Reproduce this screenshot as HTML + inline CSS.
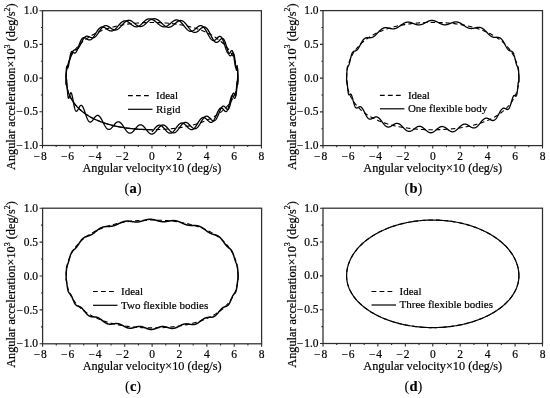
<!DOCTYPE html>
<html><head><meta charset="utf-8"><style>
html,body{margin:0;padding:0;background:#fff;}
body{width:550px;height:398px;position:relative;overflow:hidden;font-family:"Liberation Serif", serif;}
svg text{font-family:"Liberation Serif", serif;fill:#000;stroke:#000;stroke-width:0.2px;}
svg{will-change:transform;filter:blur(0.35px);}
</style></head><body>
<svg width="550" height="398" viewBox="0 0 550 398" style="position:absolute;left:0;top:0"><g><path d="M237.87,78.1 L237.86,77.23 L237.84,76.35 L237.8,75.48 L237.75,74.61 L237.69,73.73 L237.61,72.86 L237.51,71.99 L237.4,71.11 L237.28,70.24 L237.13,69.37 L236.98,68.5 L236.8,67.62 L236.61,66.75 L236.41,65.88 L236.18,65.01 L235.94,64.14 L235.68,63.28 L235.4,62.41 L235.11,61.54 L234.79,60.68 L234.46,59.82 L234.1,58.96 L233.73,58.1 L233.33,57.25 L232.92,56.4 L232.48,55.55 L232.02,54.7 L231.54,53.86 L231.03,53.03 L230.51,52.19 L229.96,51.37 L229.39,50.55 L228.79,49.73 L228.18,48.93 L227.53,48.12 L226.87,47.33 L226.18,46.54 L225.47,45.76 L224.73,44.99 L223.97,44.23 L223.19,43.48 L222.39,42.74 L221.56,42.01 L220.71,41.29 L219.83,40.58 L218.94,39.88 L218.02,39.19 L217.08,38.52 L216.12,37.86 L215.13,37.21 L214.13,36.57 L213.11,35.95 L212.07,35.34 L211.01,34.75 L209.93,34.17 L208.83,33.6 L207.72,33.05 L206.59,32.51 L205.44,31.99 L204.28,31.49 L203.1,31 L201.91,30.52 L200.71,30.06 L199.49,29.61 L198.27,29.18 L197.03,28.77 L195.78,28.37 L194.52,27.98 L193.25,27.61 L191.98,27.26 L190.69,26.92 L189.4,26.59 L188.1,26.28 L186.8,25.98 L185.49,25.7 L184.17,25.43 L182.85,25.17 L181.53,24.93 L180.2,24.7 L178.87,24.49 L177.53,24.28 L176.2,24.09 L174.86,23.91 L173.52,23.74 L172.17,23.59 L170.83,23.44 L169.48,23.31 L168.14,23.18 L166.79,23.07 L165.44,22.97 L164.09,22.88 L162.75,22.8 L161.4,22.73 L160.05,22.66 L158.7,22.61 L157.35,22.57 L156,22.54 L154.65,22.51 L153.3,22.5 L151.95,22.5 L150.6,22.5 L149.25,22.51 L147.9,22.54 L146.55,22.57 L145.2,22.61 L143.85,22.66 L142.5,22.73 L141.15,22.8 L139.81,22.88 L138.46,22.97 L137.11,23.07 L135.76,23.18 L134.42,23.31 L133.07,23.44 L131.73,23.59 L130.38,23.74 L129.04,23.91 L127.7,24.09 L126.37,24.28 L125.03,24.49 L123.7,24.7 L122.37,24.93 L121.05,25.17 L119.73,25.43 L118.41,25.7 L117.1,25.98 L115.8,26.28 L114.5,26.59 L113.21,26.92 L111.92,27.26 L110.65,27.61 L109.38,27.98 L108.12,28.37 L106.87,28.77 L105.63,29.18 L104.41,29.61 L103.19,30.06 L101.99,30.52 L100.8,31 L99.62,31.49 L98.46,31.99 L97.31,32.51 L96.18,33.05 L95.07,33.6 L93.97,34.17 L92.89,34.75 L91.83,35.34 L90.79,35.95 L89.77,36.57 L88.77,37.21 L87.78,37.86 L86.82,38.52 L85.88,39.19 L84.96,39.88 L84.07,40.58 L83.19,41.29 L82.34,42.01 L81.51,42.74 L80.71,43.48 L79.93,44.23 L79.17,44.99 L78.43,45.76 L77.72,46.54 L77.03,47.33 L76.37,48.12 L75.72,48.93 L75.11,49.73 L74.51,50.55 L73.94,51.37 L73.39,52.19 L72.87,53.03 L72.36,53.86 L71.88,54.7 L71.42,55.55 L70.98,56.4 L70.57,57.25 L70.17,58.1 L69.8,58.96 L69.44,59.82 L69.11,60.68 L68.79,61.54 L68.5,62.41 L68.22,63.28 L67.96,64.14 L67.72,65.01 L67.49,65.88 L67.29,66.75 L67.1,67.62 L66.92,68.5 L66.77,69.37 L66.62,70.24 L66.5,71.11 L66.39,71.99 L66.29,72.86 L66.21,73.73 L66.15,74.61 L66.1,75.48 L66.06,76.35 L66.04,77.23 L66.03,78.1 L66.04,78.91 L66.06,79.72 L66.1,80.53 L66.15,81.34 L66.21,82.15 L66.29,82.96 L66.39,83.77 L66.5,84.58 L66.62,85.39 L66.77,86.2 L66.92,87.01 L67.1,87.81 L67.29,88.62 L67.49,89.43 L67.72,90.24 L67.96,91.04 L68.22,91.85 L68.5,92.65 L68.79,93.45 L69.11,94.25 L69.44,95.05 L69.8,95.85 L70.17,96.64 L70.57,97.44 L70.98,98.23 L71.42,99.01 L71.88,99.8 L72.36,100.57 L72.87,101.35 L73.39,102.12 L73.94,102.89 L74.51,103.65 L75.11,104.4 L75.72,105.15 L76.37,105.9 L77.03,106.63 L77.72,107.36 L78.43,108.08 L79.17,108.8 L79.93,109.5 L80.71,110.2 L81.51,110.89 L82.34,111.57 L83.19,112.23 L84.07,112.89 L84.96,113.54 L85.88,114.18 L86.82,114.8 L87.78,115.42 L88.77,116.02 L89.77,116.61 L90.79,117.18 L91.83,117.75 L92.89,118.3 L93.97,118.84 L95.07,119.36 L96.18,119.87 L97.31,120.37 L98.46,120.85 L99.62,121.32 L100.8,121.78 L101.99,122.22 L103.19,122.65 L104.41,123.06 L105.63,123.46 L106.87,123.84 L108.12,124.21 L109.38,124.57 L110.65,124.91 L111.92,125.24 L113.21,125.56 L114.5,125.86 L115.8,126.15 L117.1,126.43 L118.41,126.69 L119.73,126.94 L121.05,127.18 L122.37,127.4 L123.7,127.61 L125.03,127.82 L126.37,128 L127.7,128.18 L129.04,128.35 L130.38,128.5 L131.73,128.65 L133.07,128.78 L134.42,128.91 L135.76,129.02 L137.11,129.13 L138.46,129.22 L139.81,129.31 L141.15,129.38 L142.5,129.45 L143.85,129.5 L145.2,129.55 L146.55,129.59 L147.9,129.62 L149.25,129.64 L150.6,129.66 L151.95,129.66 L153.3,129.66 L154.65,129.64 L156,129.62 L157.35,129.59 L158.7,129.55 L160.05,129.5 L161.4,129.45 L162.75,129.38 L164.09,129.31 L165.44,129.22 L166.79,129.13 L168.14,129.02 L169.48,128.91 L170.83,128.78 L172.17,128.65 L173.52,128.5 L174.86,128.35 L176.2,128.18 L177.53,128 L178.87,127.82 L180.2,127.61 L181.53,127.4 L182.85,127.18 L184.17,126.94 L185.49,126.69 L186.8,126.43 L188.1,126.15 L189.4,125.86 L190.69,125.56 L191.98,125.24 L193.25,124.91 L194.52,124.57 L195.78,124.21 L197.03,123.84 L198.27,123.46 L199.49,123.06 L200.71,122.65 L201.91,122.22 L203.1,121.78 L204.28,121.32 L205.44,120.85 L206.59,120.37 L207.72,119.87 L208.83,119.36 L209.93,118.84 L211.01,118.3 L212.07,117.75 L213.11,117.18 L214.13,116.61 L215.13,116.02 L216.12,115.42 L217.08,114.8 L218.02,114.18 L218.94,113.54 L219.83,112.89 L220.71,112.23 L221.56,111.57 L222.39,110.89 L223.19,110.2 L223.97,109.5 L224.73,108.8 L225.47,108.08 L226.18,107.36 L226.87,106.63 L227.53,105.9 L228.18,105.15 L228.79,104.4 L229.39,103.65 L229.96,102.89 L230.51,102.12 L231.03,101.35 L231.54,100.57 L232.02,99.8 L232.48,99.01 L232.92,98.23 L233.33,97.44 L233.73,96.64 L234.1,95.85 L234.46,95.05 L234.79,94.25 L235.11,93.45 L235.4,92.65 L235.68,91.85 L235.94,91.04 L236.18,90.24 L236.41,89.43 L236.61,88.62 L236.8,87.81 L236.98,87.01 L237.13,86.2 L237.28,85.39 L237.4,84.58 L237.51,83.77 L237.61,82.96 L237.69,82.15 L237.75,81.34 L237.8,80.53 L237.84,79.72 L237.86,78.91 L237.87,78.1 Z" fill="none" stroke="#000" stroke-width="1.1" stroke-dasharray="4.5 3"/><path d="M151.95,129.66 L151.61,129.66 L151.28,129.66 L150.94,129.66 L150.6,129.66 L150.26,129.65 L149.93,129.65 L149.59,129.65 L149.25,129.64 L148.91,129.64 L148.58,129.63 L148.24,129.63 L147.9,129.62 L147.56,129.62 L147.23,129.61 L146.89,129.6 L146.55,129.59 L146.21,129.58 L145.88,129.57 L145.54,129.56 L145.2,129.55 L144.86,129.54 L144.53,129.53 L144.19,129.52 L143.85,129.5 L143.52,129.49 L143.18,129.48 L142.84,129.46 L142.5,129.45 L142.17,129.43 L141.83,129.42 L141.49,129.4 L141.15,129.38 L140.82,129.36 L140.48,129.34 L140.14,129.33 L139.81,129.31 L139.47,129.29 L139.13,129.26 L138.8,129.24 L138.46,129.22 L138.12,129.2 L137.78,129.17 L137.45,129.15 L137.11,129.13 L136.77,129.1 L136.44,129.08 L136.1,129.05 L135.76,129.02 L135.43,128.99 L135.09,128.97 L134.75,128.94 L134.42,128.91 L134.08,128.88 L133.74,128.85 L133.41,128.82 L133.07,128.78 L132.74,128.75 L132.4,128.72 L132.06,128.68 L131.73,128.65 L131.39,128.61 L131.06,128.58 L130.72,128.54 L130.38,128.5 L130.05,128.47 L129.71,128.43 L129.38,128.39 L129.04,128.35 L128.71,128.31 L128.37,128.27 L128.04,128.23 L127.7,128.18 L127.37,128.14 L127.04,128.09 L126.7,128.05 L126.37,128 L126.03,127.96 L125.7,127.91 L125.37,127.86 L125.03,127.82 L124.7,127.77 L124.37,127.72 L124.03,127.67 L123.7,127.61 L123.37,127.56 L123.04,127.51 L122.7,127.46 L122.37,127.4 L122.04,127.35 L121.71,127.29 L121.38,127.23 L121.05,127.18 L120.72,127.12 L120.39,127.06 L120.06,127 L119.73,126.94 L119.4,126.88 L119.07,126.82 L118.74,126.75 L118.41,126.69 L118.08,126.62 L117.76,126.56 L117.43,126.49 L117.1,126.43 L116.78,126.36 L116.45,126.29 L116.12,126.22 L115.8,126.15 L115.47,126.08 L115.15,126.01 L114.82,125.94 L114.5,125.86 L114.18,125.79 L113.85,125.71 L113.53,125.64 L113.21,125.56 L112.89,125.48 L112.56,125.4 L112.24,125.32 L111.92,125.24 L111.6,125.16 L111.28,125.08 L110.96,125 L110.65,124.91 L110.33,124.83 L110.01,124.74 L109.69,124.66 L109.38,124.57 L109.06,124.48 L108.75,124.39 L108.43,124.31 L108.12,124.21 L107.81,124.12 L107.49,124.03 L107.18,123.94 L106.87,123.84 L106.56,123.75 L106.25,123.65 L105.94,123.56 L105.63,123.46 L105.32,123.36 L105.02,123.26 L104.71,123.16 L104.41,123.06 L104.1,122.96 L103.8,122.86 L103.49,122.75 L103.19,122.65 L102.89,122.54 L102.59,122.44 L102.29,122.33 L101.99,122.22 L101.69,122.11 L101.39,122 L101.09,121.89 L100.8,121.78 L100.5,121.67 L100.21,121.55 L99.91,121.44 L99.62,121.32 L99.33,121.21 L99.04,121.09 L98.75,120.97 L98.46,120.85 L98.17,120.73 L97.89,120.61 L97.6,120.49 L97.31,120.37 L97.03,120.25 L96.75,120.12 L96.46,120 L96.18,119.87 L95.9,119.75 L95.62,119.62 L95.35,119.49 L95.07,119.36 L94.79,119.23 L94.52,119.1 L94.25,118.97 L93.97,118.84 L93.7,118.7 L93.43,118.57 L93.16,118.43 L92.89,118.3 L92.63,118.16 L92.36,118.03 L92.1,117.89 L91.83,117.75 L91.57,117.61 L91.31,117.47 L91.05,117.33 L90.79,117.18 L90.53,117.04 L90.28,116.9 L90.02,116.75 L89.77,116.61 L89.52,116.46 L89.27,116.31 L89.02,116.17 L88.77,116.02 L88.52,115.87 L88.27,115.72 L88.03,115.57 L87.78,115.42 L87.54,115.26 L87.3,115.11 L87.06,114.96 L86.82,114.8 L86.59,114.65 L86.35,114.49 L86.12,114.33 L85.88,114.18 L85.65,114.02 L85.42,113.86 L85.19,113.7 L84.96,113.54 L84.74,113.38 L84.51,113.22 L84.29,113.06 L84.07,112.89 L83.85,112.73 L83.63,112.57 L83.41,112.4 L83.19,112.23 L82.98,112.07 L82.77,111.9 L82.55,111.73 L82.34,111.57 L82.13,111.4 L81.93,111.23 L81.72,111.06 L81.51,110.89 L81.31,110.72 L81.11,110.55 L80.91,110.37 L80.71,110.2 L80.51,110.03 L80.31,109.85 L80.12,109.68 L79.93,109.5 L79.73,109.33 L79.54,109.15 L79.35,108.97 L79.17,108.8 L78.98,108.62 L78.8,108.44 L78.61,108.26 L78.43,108.08 L78.25,107.9 L78.07,107.72 L77.9,107.54 L77.72,107.36 L77.55,107.18 L77.37,107 L77.2,106.82 L77.03,106.63 L76.86,106.45 L76.7,106.27 L76.53,106.08 L76.37,105.9 L76.2,105.71 L76.04,105.53 L75.88,105.34 L75.72,105.15 L75.57,104.97 L75.41,104.78 L75.26,104.59 L75.11,104.4 L74.96,104.22 L74.81,104.03 L74.66,103.84 L74.51,103.65 L74.37,103.46 L74.22,103.27 L74.08,103.08 L73.94,102.89 L73.8,102.7 L73.66,102.5 L73.53,102.31 L73.39,102.12 L73.26,101.93 L73.13,101.74 L73,101.54 L72.87,101.35 L72.74,101.16 L72.61,100.96 L72.49,100.77 L72.36,100.57 L72.24,100.38 L72.12,100.19 L72,99.99 L71.88,99.8 L71.76,99.6 L71.65,99.4 L71.53,99.21 L71.42,99.01 L71.31,98.82 L71.2,98.62 L71.09,98.42 L70.98,98.23 L70.88,98.03 L70.77,97.83 L70.67,97.63 L70.57,97.44 L70.47,97.24 L70.37,97.04 L70.27,96.84 L70.17,96.64 L70.08,96.45 L69.98,96.25 L69.89,96.05 L69.8,95.85 L69.71,95.65 L69.62,95.45 L69.53,95.25 L69.44,95.05 L69.36,94.85 L69.27,94.65 L69.19,94.45 L69.11,94.25 L69.03,94.05 L68.95,93.85 L68.87,93.65 L68.79,93.45 L68.72,93.25 L68.64,93.05 L68.57,92.85 L68.5,92.65 L68.42,92.45 L68.35,92.25 L68.29,92.05 L68.22,91.85 L68.15,91.65 L68.09,91.44 L68.02,91.24 L67.96,91.04 L67.9,90.84 L67.84,90.64 L67.78,90.44 L67.72,90.24 L67.66,90.03 L67.6,89.83 L67.55,89.63 L67.49,89.43 L67.44,89.23 L67.39,89.03 L67.34,88.82 L67.29,88.62 L67.24,88.42 L67.19,88.22 L67.14,88.02 L67.1,87.81 L67.05,87.61 L67.01,87.41 L66.96,87.21 L66.92,87.01 L66.88,86.8 L66.84,86.6 L66.8,86.4 L66.77,86.2 L66.73,85.99 L66.69,85.79 L66.66,85.59 L66.62,85.39 L66.59,85.19 L66.56,84.98 L66.53,84.78 L66.5,84.58 L66.47,84.38 L66.44,84.17 L66.41,83.97 L66.39,83.77 L66.36,83.57 L66.34,83.36 L66.32,83.16 L66.29,82.96 L66.27,82.76 L66.25,82.55 L66.23,82.35 L66.21,82.15 L66.2,81.95 L66.18,81.74 L66.16,81.54 L66.15,81.34 L66.13,81.14 L66.12,80.93 L66.11,80.73 L66.1,80.53 L66.09,80.33 L66.08,80.12 L66.07,79.92 L66.06,79.72 L66.05,79.52 L66.05,79.31 L66.04,79.11 L66.04,78.91 L66.04,78.71 L66.03,78.5 L66.03,78.3 L66.03,78.1 L66.03,77.89 L66.03,77.69 L66.04,77.48 L66.04,77.28 L66.04,77.08 L66.05,76.88 L66.05,76.68 L66.06,76.48 L66.07,76.27 L66.08,76.07 L66.09,75.87 L66.1,75.66 L66.11,75.45 L66.12,75.24 L66.13,75.02 L66.15,74.81 L66.16,74.59 L66.18,74.36 L66.2,74.13 L66.21,73.9 L66.23,73.67 L66.25,73.43 L66.27,73.19 L66.29,72.94 L66.32,72.69 L66.34,72.44 L66.36,72.18 L66.39,71.92 L66.41,71.66 L66.44,71.4 L66.47,71.14 L66.5,70.87 L66.53,70.61 L66.56,70.34 L66.59,70.08 L66.62,69.81 L66.66,69.55 L66.69,69.29 L66.73,69.04 L66.77,68.78 L66.8,68.53 L66.84,68.29 L66.88,68.05 L66.92,67.82 L66.96,67.59 L67.01,67.37 L67.05,67.15 L67.1,66.94 L67.14,66.74 L67.19,66.54 L67.24,66.35 L67.29,66.17 L67.34,65.99 L67.39,65.83 L67.44,65.66 L67.49,65.51 L67.55,65.36 L67.6,65.21 L67.66,65.07 L67.72,64.93 L67.78,64.8 L67.84,64.67 L67.9,64.54 L67.96,64.41 L68.02,64.28 L68.09,64.16 L68.15,64.03 L68.22,63.9 L68.29,63.77 L68.35,63.63 L68.42,63.49 L68.5,63.34 L68.57,63.19 L68.64,63.03 L68.72,62.86 L68.79,62.69 L68.87,62.51 L68.95,62.32 L69.03,62.11 L69.11,61.9 L69.19,61.68 L69.27,61.45 L69.36,61.21 L69.44,60.95 L69.53,60.69 L69.62,60.42 L69.71,60.13 L69.8,59.84 L69.89,59.54 L69.98,59.23 L70.08,58.91 L70.17,58.58 L70.27,58.25 L70.37,57.91 L70.47,57.57 L70.57,57.23 L70.67,56.88 L70.77,56.53 L70.88,56.18 L70.98,55.83 L71.09,55.49 L71.2,55.15 L71.31,54.81 L71.42,54.48 L71.53,54.15 L71.65,53.83 L71.76,53.52 L71.88,53.23 L72,52.94 L72.12,52.66 L72.24,52.4 L72.36,52.15 L72.49,51.91 L72.61,51.69 L72.74,51.48 L72.87,51.28 L73,51.1 L73.13,50.94 L73.26,50.79 L73.39,50.65 L73.53,50.53 L73.66,50.42 L73.8,50.33 L73.94,50.25 L74.08,50.18 L74.22,50.11 L74.37,50.06 L74.51,50.02 L74.66,49.98 L74.81,49.96 L74.96,49.93 L75.11,49.91 L75.26,49.89 L75.41,49.87 L75.57,49.85 L75.72,49.82 L75.88,49.79 L76.04,49.76 L76.2,49.72 L76.37,49.67 L76.53,49.61 L76.7,49.54 L76.86,49.46 L77.03,49.36 L77.2,49.25 L77.37,49.12 L77.55,48.98 L77.72,48.82 L77.9,48.65 L78.07,48.46 L78.25,48.24 L78.43,48.02 L78.61,47.77 L78.8,47.51 L78.98,47.22 L79.17,46.93 L79.35,46.61 L79.54,46.28 L79.73,45.94 L79.93,45.58 L80.12,45.21 L80.31,44.83 L80.51,44.44 L80.71,44.04 L80.91,43.64 L81.11,43.23 L81.31,42.82 L81.51,42.41 L81.72,41.99 L81.93,41.58 L82.13,41.18 L82.34,40.78 L82.55,40.39 L82.77,40 L82.98,39.63 L83.19,39.28 L83.41,38.93 L83.63,38.6 L83.85,38.29 L84.07,38 L84.29,37.73 L84.51,37.48 L84.74,37.25 L84.96,37.04 L85.19,36.85 L85.42,36.69 L85.65,36.55 L85.88,36.43 L86.12,36.34 L86.35,36.27 L86.59,36.22 L86.82,36.19 L87.06,36.18 L87.3,36.19 L87.54,36.22 L87.78,36.27 L88.03,36.33 L88.27,36.4 L88.52,36.49 L88.77,36.59 L89.02,36.69 L89.27,36.8 L89.52,36.92 L89.77,37.03 L90.02,37.15 L90.28,37.26 L90.53,37.38 L90.79,37.48 L91.05,37.58 L91.31,37.66 L91.57,37.73 L91.83,37.79 L92.1,37.83 L92.36,37.86 L92.63,37.86 L92.89,37.85 L93.16,37.81 L93.43,37.75 L93.7,37.67 L93.97,37.56 L94.25,37.43 L94.52,37.28 L94.79,37.09 L95.07,36.89 L95.35,36.65 L95.62,36.4 L95.9,36.12 L96.18,35.82 L96.46,35.49 L96.75,35.15 L97.03,34.78 L97.31,34.4 L97.6,34.01 L97.89,33.6 L98.17,33.18 L98.46,32.75 L98.75,32.31 L99.04,31.87 L99.33,31.42 L99.62,30.97 L99.91,30.53 L100.21,30.1 L100.5,29.68 L100.8,29.27 L101.09,28.87 L101.39,28.49 L101.69,28.12 L101.99,27.78 L102.29,27.46 L102.59,27.16 L102.89,26.88 L103.19,26.63 L103.49,26.41 L103.8,26.22 L104.1,26.05 L104.41,25.91 L104.71,25.8 L105.02,25.72 L105.32,25.67 L105.63,25.64 L105.94,25.64 L106.25,25.67 L106.56,25.73 L106.87,25.81 L107.18,25.91 L107.49,26.03 L107.81,26.17 L108.12,26.33 L108.43,26.51 L108.75,26.7 L109.06,26.9 L109.38,27.12 L109.69,27.34 L110.01,27.56 L110.33,27.79 L110.65,28.02 L110.96,28.24 L111.28,28.46 L111.6,28.68 L111.92,28.88 L112.24,29.08 L112.56,29.26 L112.89,29.42 L113.21,29.57 L113.53,29.7 L113.85,29.81 L114.18,29.9 L114.5,29.96 L114.82,30 L115.15,30.02 L115.47,30.01 L115.8,29.97 L116.12,29.91 L116.45,29.82 L116.78,29.71 L117.1,29.57 L117.43,29.4 L117.76,29.21 L118.08,29 L118.41,28.76 L118.74,28.5 L119.07,28.22 L119.4,27.92 L119.73,27.6 L120.06,27.27 L120.39,26.93 L120.72,26.58 L121.05,26.21 L121.38,25.84 L121.71,25.47 L122.04,25.09 L122.37,24.71 L122.7,24.34 L123.04,23.97 L123.37,23.61 L123.7,23.25 L124.03,22.91 L124.37,22.58 L124.7,22.27 L125.03,21.98 L125.37,21.7 L125.7,21.44 L126.03,21.21 L126.37,21 L126.7,20.82 L127.04,20.66 L127.37,20.53 L127.7,20.42 L128.04,20.34 L128.37,20.29 L128.71,20.27 L129.04,20.28 L129.38,20.31 L129.71,20.37 L130.05,20.45 L130.38,20.56 L130.72,20.7 L131.06,20.85 L131.39,21.03 L131.73,21.23 L132.06,21.44 L132.4,21.67 L132.74,21.92 L133.07,22.17 L133.41,22.44 L133.74,22.72 L134.08,23 L134.42,23.28 L134.75,23.56 L135.09,23.85 L135.43,24.12 L135.76,24.4 L136.1,24.66 L136.44,24.92 L136.77,25.16 L137.11,25.38 L137.45,25.6 L137.78,25.79 L138.12,25.96 L138.46,26.12 L138.8,26.25 L139.13,26.36 L139.47,26.44 L139.81,26.5 L140.14,26.53 L140.48,26.54 L140.82,26.52 L141.15,26.48 L141.49,26.4 L141.83,26.31 L142.17,26.19 L142.5,26.04 L142.84,25.87 L143.18,25.68 L143.52,25.47 L143.85,25.24 L144.19,24.99 L144.53,24.72 L144.86,24.44 L145.2,24.15 L145.54,23.84 L145.88,23.53 L146.21,23.21 L146.55,22.89 L146.89,22.57 L147.23,22.25 L147.56,21.93 L147.9,21.61 L148.24,21.3 L148.58,21 L148.91,20.72 L149.25,20.44 L149.59,20.19 L149.93,19.95 L150.26,19.73 L150.6,19.52 L150.94,19.35 L151.28,19.19 L151.61,19.06 L151.95,18.95 L152.29,18.95 L152.62,18.89 L152.96,18.84 L153.3,18.8 L153.64,18.77 L153.97,18.75 L154.31,18.75 L154.65,18.77 L154.99,18.81 L155.32,18.87 L155.66,18.95 L156,19.05 L156.34,19.17 L156.67,19.31 L157.01,19.47 L157.35,19.64 L157.69,19.84 L158.02,20.05 L158.36,20.28 L158.7,20.52 L159.04,20.78 L159.37,21.05 L159.71,21.33 L160.05,21.63 L160.38,21.93 L160.72,22.23 L161.06,22.55 L161.4,22.86 L161.73,23.18 L162.07,23.5 L162.41,23.81 L162.75,24.12 L163.08,24.43 L163.42,24.73 L163.76,25.02 L164.09,25.3 L164.43,25.56 L164.77,25.81 L165.1,26.05 L165.44,26.27 L165.78,26.47 L166.12,26.65 L166.45,26.81 L166.79,26.94 L167.13,27.06 L167.46,27.15 L167.8,27.22 L168.14,27.26 L168.47,27.28 L168.81,27.28 L169.15,27.24 L169.48,27.19 L169.82,27.11 L170.16,27.01 L170.49,26.88 L170.83,26.74 L171.16,26.57 L171.5,26.38 L171.84,26.18 L172.17,25.95 L172.51,25.72 L172.84,25.46 L173.18,25.2 L173.52,24.93 L173.85,24.65 L174.19,24.36 L174.52,24.07 L174.86,23.77 L175.19,23.48 L175.53,23.19 L175.86,22.9 L176.2,22.62 L176.53,22.35 L176.86,22.09 L177.2,21.85 L177.53,21.62 L177.87,21.4 L178.2,21.21 L178.53,21.03 L178.87,20.88 L179.2,20.75 L179.53,20.64 L179.87,20.57 L180.2,20.51 L180.53,20.49 L180.86,20.49 L181.2,20.53 L181.53,20.59 L181.86,20.68 L182.19,20.8 L182.52,20.95 L182.85,21.13 L183.18,21.34 L183.51,21.57 L183.84,21.83 L184.17,22.12 L184.5,22.42 L184.83,22.75 L185.16,23.1 L185.49,23.47 L185.82,23.86 L186.14,24.26 L186.47,24.67 L186.8,25.09 L187.12,25.52 L187.45,25.96 L187.78,26.39 L188.1,26.83 L188.43,27.27 L188.75,27.7 L189.08,28.13 L189.4,28.55 L189.72,28.95 L190.05,29.35 L190.37,29.72 L190.69,30.08 L191.01,30.42 L191.34,30.74 L191.66,31.04 L191.98,31.31 L192.3,31.55 L192.62,31.77 L192.94,31.96 L193.25,32.12 L193.57,32.25 L193.89,32.35 L194.21,32.42 L194.52,32.46 L194.84,32.47 L195.15,32.45 L195.47,32.4 L195.78,32.33 L196.09,32.23 L196.41,32.1 L196.72,31.95 L197.03,31.78 L197.34,31.58 L197.65,31.37 L197.96,31.15 L198.27,30.9 L198.58,30.65 L198.88,30.39 L199.19,30.12 L199.49,29.85 L199.8,29.57 L200.1,29.3 L200.41,29.03 L200.71,28.77 L201.01,28.52 L201.31,28.27 L201.61,28.05 L201.91,27.84 L202.21,27.65 L202.51,27.48 L202.81,27.33 L203.1,27.21 L203.4,27.11 L203.69,27.05 L203.99,27.01 L204.28,27.01 L204.57,27.04 L204.86,27.1 L205.15,27.19 L205.44,27.32 L205.73,27.48 L206.01,27.68 L206.3,27.91 L206.59,28.17 L206.87,28.47 L207.15,28.79 L207.44,29.14 L207.72,29.53 L208,29.94 L208.28,30.37 L208.55,30.82 L208.83,31.3 L209.11,31.79 L209.38,32.3 L209.65,32.82 L209.93,33.35 L210.2,33.89 L210.47,34.43 L210.74,34.98 L211.01,35.52 L211.27,36.06 L211.54,36.59 L211.8,37.11 L212.07,37.62 L212.33,38.11 L212.59,38.58 L212.85,39.04 L213.11,39.47 L213.37,39.88 L213.62,40.26 L213.88,40.62 L214.13,40.94 L214.38,41.24 L214.63,41.5 L214.88,41.73 L215.13,41.92 L215.38,42.08 L215.63,42.21 L215.87,42.31 L216.12,42.37 L216.36,42.4 L216.6,42.4 L216.84,42.37 L217.08,42.31 L217.31,42.22 L217.55,42.1 L217.78,41.97 L218.02,41.81 L218.25,41.64 L218.48,41.44 L218.71,41.24 L218.94,41.02 L219.16,40.8 L219.39,40.57 L219.61,40.34 L219.83,40.11 L220.05,39.88 L220.27,39.67 L220.49,39.46 L220.71,39.26 L220.92,39.09 L221.13,38.93 L221.35,38.79 L221.56,38.67 L221.77,38.58 L221.97,38.52 L222.18,38.49 L222.39,38.49 L222.59,38.52 L222.79,38.58 L222.99,38.69 L223.19,38.82 L223.39,38.99 L223.59,39.2 L223.78,39.45 L223.97,39.73 L224.17,40.04 L224.36,40.39 L224.55,40.77 L224.73,41.18 L224.92,41.62 L225.1,42.09 L225.29,42.59 L225.47,43.1 L225.65,43.64 L225.83,44.2 L226,44.77 L226.18,45.35 L226.35,45.95 L226.53,46.55 L226.7,47.15 L226.87,47.75 L227.04,48.35 L227.2,48.95 L227.37,49.53 L227.53,50.1 L227.7,50.66 L227.86,51.2 L228.02,51.71 L228.18,52.21 L228.33,52.68 L228.49,53.12 L228.64,53.53 L228.79,53.91 L228.94,54.26 L229.09,54.57 L229.24,54.85 L229.39,55.1 L229.53,55.31 L229.68,55.48 L229.82,55.62 L229.96,55.72 L230.1,55.79 L230.24,55.83 L230.37,55.84 L230.51,55.81 L230.64,55.76 L230.77,55.68 L230.9,55.58 L231.03,55.46 L231.16,55.31 L231.29,55.16 L231.41,54.99 L231.54,54.81 L231.66,54.62 L231.78,54.43 L231.9,54.24 L232.02,54.05 L232.14,53.87 L232.25,53.7 L232.37,53.54 L232.48,53.4 L232.59,53.27 L232.7,53.16 L232.81,53.08 L232.92,53.03 L233.02,53 L233.13,53 L233.23,53.04 L233.33,53.11 L233.43,53.21 L233.53,53.34 L233.63,53.52 L233.73,53.73 L233.82,53.97 L233.92,54.25 L234.01,54.57 L234.1,54.92 L234.19,55.3 L234.28,55.72 L234.37,56.16 L234.46,56.64 L234.54,57.14 L234.63,57.66 L234.71,58.2 L234.79,58.77 L234.87,59.34 L234.95,59.93 L235.03,60.53 L235.11,61.14 L235.18,61.75 L235.26,62.35 L235.33,62.95 L235.4,63.55 L235.48,64.14 L235.55,64.71 L235.61,65.26 L235.68,65.8 L235.75,66.31 L235.81,66.8 L235.88,67.26 L235.94,67.69 L236,68.1 L236.06,68.47 L236.12,68.8 L236.18,69.1 L236.24,69.37 L236.3,69.6 L236.35,69.79 L236.41,69.95 L236.46,70.08 L236.51,70.17 L236.56,70.22 L236.61,70.25 L236.66,70.24 L236.71,70.21 L236.76,70.15 L236.8,70.07 L236.85,69.96 L236.89,69.84 L236.94,69.71 L236.98,69.56 L237.02,69.4 L237.06,69.24 L237.1,69.08 L237.13,68.92 L237.17,68.76 L237.21,68.61 L237.24,68.48 L237.28,68.36 L237.31,68.25 L237.34,68.17 L237.37,68.11 L237.4,68.08 L237.43,68.07 L237.46,68.1 L237.49,68.16 L237.51,68.25 L237.54,68.38 L237.56,68.54 L237.58,68.74 L237.61,68.97 L237.63,69.25 L237.65,69.56 L237.67,69.9 L237.69,70.28 L237.7,70.69 L237.72,71.14 L237.74,71.61 L237.75,72.11 L237.77,72.63 L237.78,73.18 L237.79,73.75 L237.8,74.33 L237.81,74.92 L237.82,75.52 L237.83,76.13 L237.84,76.74 L237.85,77.35 L237.85,77.95 L237.86,78.54 L237.86,79.12 L237.86,79.68 L237.87,80.23 L237.87,80.76 L237.87,81.34 L237.87,82.31 L237.87,82.65 L237.86,82.96 L237.86,83.24 L237.86,83.48 L237.85,83.69 L237.85,83.87 L237.84,84.01 L237.83,84.12 L237.82,84.19 L237.81,84.23 L237.8,84.24 L237.79,84.22 L237.78,84.17 L237.77,84.1 L237.75,84 L237.74,83.89 L237.72,83.75 L237.7,83.6 L237.69,83.43 L237.67,83.25 L237.65,83.07 L237.63,82.88 L237.61,82.69 L237.58,82.51 L237.56,82.33 L237.54,82.15 L237.51,81.99 L237.49,81.84 L237.46,81.71 L237.43,81.6 L237.4,81.51 L237.37,81.44 L237.34,81.41 L237.31,81.4 L237.28,81.42 L237.24,81.47 L237.21,81.55 L237.17,81.67 L237.13,81.83 L237.1,82.02 L237.06,82.24 L237.02,82.5 L236.98,82.8 L236.94,83.13 L236.89,83.49 L236.85,83.88 L236.8,84.3 L236.76,84.75 L236.71,85.23 L236.66,85.73 L236.61,86.26 L236.56,86.8 L236.51,87.36 L236.46,87.93 L236.41,88.52 L236.35,89.11 L236.3,89.7 L236.24,90.3 L236.18,90.89 L236.12,91.48 L236.06,92.06 L236,92.63 L235.94,93.19 L235.88,93.72 L235.81,94.24 L235.75,94.73 L235.68,95.2 L235.61,95.64 L235.55,96.06 L235.48,96.44 L235.4,96.79 L235.33,97.1 L235.26,97.38 L235.18,97.62 L235.11,97.83 L235.03,98 L234.95,98.14 L234.87,98.24 L234.79,98.31 L234.71,98.34 L234.63,98.34 L234.54,98.31 L234.46,98.26 L234.37,98.17 L234.28,98.06 L234.19,97.93 L234.1,97.78 L234.01,97.62 L233.92,97.44 L233.82,97.25 L233.73,97.05 L233.63,96.85 L233.53,96.66 L233.43,96.46 L233.33,96.27 L233.23,96.09 L233.13,95.92 L233.02,95.76 L232.92,95.63 L232.81,95.52 L232.7,95.43 L232.59,95.36 L232.48,95.33 L232.37,95.32 L232.25,95.35 L232.14,95.41 L232.02,95.51 L231.9,95.64 L231.78,95.81 L231.66,96.01 L231.54,96.25 L231.41,96.52 L231.29,96.83 L231.16,97.18 L231.03,97.56 L230.9,97.96 L230.77,98.4 L230.64,98.87 L230.51,99.36 L230.37,99.88 L230.24,100.41 L230.1,100.96 L229.96,101.53 L229.82,102.11 L229.68,102.69 L229.53,103.28 L229.39,103.87 L229.24,104.46 L229.09,105.04 L228.94,105.62 L228.79,106.18 L228.64,106.73 L228.49,107.26 L228.33,107.77 L228.18,108.25 L228.02,108.71 L227.86,109.14 L227.7,109.53 L227.53,109.9 L227.37,110.23 L227.2,110.53 L227.04,110.79 L226.87,111.01 L226.7,111.19 L226.53,111.34 L226.35,111.45 L226.18,111.52 L226,111.56 L225.83,111.56 L225.65,111.53 L225.47,111.47 L225.29,111.38 L225.1,111.26 L224.92,111.12 L224.73,110.95 L224.55,110.77 L224.36,110.57 L224.17,110.36 L223.97,110.14 L223.78,109.91 L223.59,109.68 L223.39,109.45 L223.19,109.23 L222.99,109.01 L222.79,108.8 L222.59,108.61 L222.39,108.44 L222.18,108.28 L221.97,108.15 L221.77,108.04 L221.56,107.97 L221.35,107.92 L221.13,107.9 L220.92,107.92 L220.71,107.97 L220.49,108.06 L220.27,108.19 L220.05,108.35 L219.83,108.55 L219.61,108.79 L219.39,109.06 L219.16,109.37 L218.94,109.71 L218.71,110.08 L218.48,110.49 L218.25,110.92 L218.02,111.38 L217.78,111.86 L217.55,112.36 L217.31,112.89 L217.08,113.42 L216.84,113.97 L216.6,114.52 L216.36,115.08 L216.12,115.64 L215.87,116.2 L215.63,116.75 L215.38,117.29 L215.13,117.82 L214.88,118.33 L214.63,118.82 L214.38,119.3 L214.13,119.74 L213.88,120.16 L213.62,120.54 L213.37,120.9 L213.11,121.22 L212.85,121.5 L212.59,121.75 L212.33,121.96 L212.07,122.13 L211.8,122.26 L211.54,122.35 L211.27,122.4 L211.01,122.42 L210.74,122.4 L210.47,122.34 L210.2,122.25 L209.93,122.13 L209.65,121.98 L209.38,121.8 L209.11,121.59 L208.83,121.37 L208.55,121.13 L208.28,120.87 L208,120.6 L207.72,120.32 L207.44,120.03 L207.15,119.75 L206.87,119.46 L206.59,119.19 L206.3,118.92 L206.01,118.66 L205.73,118.43 L205.44,118.21 L205.15,118.01 L204.86,117.84 L204.57,117.69 L204.28,117.58 L203.99,117.5 L203.69,117.45 L203.4,117.44 L203.1,117.46 L202.81,117.52 L202.51,117.62 L202.21,117.76 L201.91,117.93 L201.61,118.14 L201.31,118.39 L201.01,118.67 L200.71,118.99 L200.41,119.33 L200.1,119.71 L199.8,120.11 L199.49,120.54 L199.19,120.99 L198.88,121.46 L198.58,121.94 L198.27,122.44 L197.96,122.94 L197.65,123.45 L197.34,123.96 L197.03,124.46 L196.72,124.96 L196.41,125.45 L196.09,125.93 L195.78,126.39 L195.47,126.83 L195.15,127.24 L194.84,127.63 L194.52,127.99 L194.21,128.32 L193.89,128.62 L193.57,128.88 L193.25,129.1 L192.94,129.29 L192.62,129.44 L192.3,129.54 L191.98,129.61 L191.66,129.64 L191.34,129.62 L191.01,129.57 L190.69,129.48 L190.37,129.36 L190.05,129.2 L189.72,129.01 L189.4,128.79 L189.08,128.54 L188.75,128.27 L188.43,127.98 L188.1,127.67 L187.78,127.34 L187.45,127 L187.12,126.66 L186.8,126.31 L186.47,125.97 L186.14,125.62 L185.82,125.29 L185.49,124.96 L185.16,124.65 L184.83,124.36 L184.5,124.09 L184.17,123.84 L183.84,123.62 L183.51,123.43 L183.18,123.28 L182.85,123.15 L182.52,123.06 L182.19,123.01 L181.86,123 L181.53,123.02 L181.2,123.08 L180.86,123.19 L180.53,123.33 L180.2,123.5 L179.87,123.72 L179.53,123.97 L179.2,124.25 L178.87,124.56 L178.53,124.9 L178.2,125.27 L177.87,125.66 L177.53,126.07 L177.2,126.5 L176.86,126.94 L176.53,127.39 L176.2,127.85 L175.86,128.31 L175.53,128.77 L175.19,129.22 L174.86,129.67 L174.52,130.1 L174.19,130.51 L173.85,130.91 L173.52,131.28 L173.18,131.63 L172.84,131.95 L172.51,132.23 L172.17,132.49 L171.84,132.71 L171.5,132.89 L171.16,133.03 L170.83,133.13 L170.49,133.2 L170.16,133.22 L169.82,133.2 L169.48,133.14 L169.15,133.05 L168.81,132.91 L168.47,132.74 L168.14,132.53 L167.8,132.29 L167.46,132.02 L167.13,131.73 L166.79,131.41 L166.45,131.06 L166.12,130.7 L165.78,130.33 L165.44,129.94 L165.1,129.55 L164.77,129.15 L164.43,128.75 L164.09,128.36 L163.76,127.98 L163.42,127.61 L163.08,127.25 L162.75,126.91 L162.41,126.59 L162.07,126.3 L161.73,126.04 L161.4,125.8 L161.06,125.6 L160.72,125.44 L160.38,125.31 L160.05,125.22 L159.71,125.16 L159.37,125.15 L159.04,125.17 L158.7,125.24 L158.36,125.34 L158.02,125.48 L157.69,125.66 L157.35,125.88 L157.01,126.13 L156.67,126.4 L156.34,126.71 L156,127.05 L155.66,127.4 L155.32,127.78 L154.99,128.17 L154.65,128.58 L154.31,128.99 L153.97,129.41 L153.64,129.84 L153.3,130.26 L152.96,130.67 L152.62,131.08 L152.29,131.47 L151.95,131.84" fill="none" stroke="#000" stroke-width="1.3" stroke-linejoin="round"/><path d="M151.95,134.04 L151.61,134.04 L151.28,134.01 L150.94,133.93 L150.6,133.82 L150.26,133.66 L149.93,133.47 L149.59,133.24 L149.25,132.98 L148.91,132.69 L148.58,132.36 L148.24,132.01 L147.9,131.64 L147.56,131.25 L147.23,130.84 L146.89,130.41 L146.55,129.98 L146.21,129.54 L145.88,129.1 L145.54,128.67 L145.2,128.24 L144.86,127.82 L144.53,127.41 L144.19,127.03 L143.85,126.66 L143.52,126.32 L143.18,126.01 L142.84,125.72 L142.5,125.47 L142.17,125.26 L141.83,125.08 L141.49,124.95 L141.15,124.85 L140.82,124.79 L140.48,124.78 L140.14,124.8 L139.81,124.87 L139.47,124.98 L139.13,125.13 L138.8,125.31 L138.46,125.54 L138.12,125.79 L137.78,126.08 L137.45,126.4 L137.11,126.74 L136.77,127.1 L136.44,127.48 L136.1,127.88 L135.76,128.29 L135.43,128.71 L135.09,129.13 L134.75,129.55 L134.42,129.96 L134.08,130.36 L133.74,130.76 L133.41,131.13 L133.07,131.48 L132.74,131.81 L132.4,132.11 L132.06,132.38 L131.73,132.61 L131.39,132.81 L131.06,132.97 L130.72,133.09 L130.38,133.17 L130.05,133.2 L129.71,133.19 L129.38,133.13 L129.04,133.03 L128.71,132.89 L128.37,132.7 L128.04,132.47 L127.7,132.2 L127.37,131.89 L127.04,131.55 L126.7,131.17 L126.37,130.77 L126.03,130.33 L125.7,129.87 L125.37,129.4 L125.03,128.9 L124.7,128.4 L124.37,127.88 L124.03,127.37 L123.7,126.85 L123.37,126.34 L123.04,125.84 L122.7,125.35 L122.37,124.88 L122.04,124.44 L121.71,124.01 L121.38,123.62 L121.05,123.26 L120.72,122.93 L120.39,122.64 L120.06,122.39 L119.73,122.18 L119.4,122.01 L119.07,121.89 L118.74,121.81 L118.41,121.78 L118.08,121.79 L117.76,121.84 L117.43,121.94 L117.1,122.08 L116.78,122.26 L116.45,122.48 L116.12,122.73 L115.8,123.01 L115.47,123.32 L115.15,123.66 L114.82,124.02 L114.5,124.4 L114.18,124.79 L113.85,125.19 L113.53,125.59 L113.21,126 L112.89,126.4 L112.56,126.79 L112.24,127.17 L111.92,127.54 L111.6,127.88 L111.28,128.2 L110.96,128.49 L110.65,128.74 L110.33,128.96 L110.01,129.15 L109.69,129.29 L109.38,129.39 L109.06,129.44 L108.75,129.45 L108.43,129.41 L108.12,129.32 L107.81,129.19 L107.49,129.01 L107.18,128.78 L106.87,128.5 L106.56,128.19 L106.25,127.83 L105.94,127.43 L105.63,126.99 L105.32,126.52 L105.02,126.02 L104.71,125.49 L104.41,124.94 L104.1,124.37 L103.8,123.78 L103.49,123.18 L103.19,122.58 L102.89,121.98 L102.59,121.38 L102.29,120.79 L101.99,120.21 L101.69,119.65 L101.39,119.11 L101.09,118.59 L100.8,118.11 L100.5,117.65 L100.21,117.23 L99.91,116.85 L99.62,116.51 L99.33,116.21 L99.04,115.95 L98.75,115.75 L98.46,115.58 L98.17,115.47 L97.89,115.4 L97.6,115.38 L97.31,115.41 L97.03,115.48 L96.75,115.59 L96.46,115.75 L96.18,115.94 L95.9,116.17 L95.62,116.43 L95.35,116.72 L95.07,117.04 L94.79,117.37 L94.52,117.72 L94.25,118.09 L93.97,118.46 L93.7,118.84 L93.43,119.22 L93.16,119.59 L92.89,119.94 L92.63,120.29 L92.36,120.61 L92.1,120.91 L91.83,121.19 L91.57,121.43 L91.31,121.63 L91.05,121.8 L90.79,121.93 L90.53,122.01 L90.28,122.05 L90.02,122.04 L89.77,121.98 L89.52,121.88 L89.27,121.72 L89.02,121.51 L88.77,121.26 L88.52,120.95 L88.27,120.6 L88.03,120.2 L87.78,119.76 L87.54,119.28 L87.3,118.76 L87.06,118.21 L86.82,117.62 L86.59,117.01 L86.35,116.38 L86.12,115.73 L85.88,115.06 L85.65,114.39 L85.42,113.71 L85.19,113.03 L84.96,112.35 L84.74,111.68 L84.51,111.03 L84.29,110.4 L84.07,109.79 L83.85,109.21 L83.63,108.65 L83.41,108.13 L83.19,107.65 L82.98,107.21 L82.77,106.81 L82.55,106.46 L82.34,106.15 L82.13,105.89 L81.93,105.68 L81.72,105.52 L81.51,105.41 L81.31,105.35 L81.11,105.34 L80.91,105.37 L80.71,105.44 L80.51,105.56 L80.31,105.72 L80.12,105.92 L79.93,106.15 L79.73,106.41 L79.54,106.69 L79.35,107 L79.17,107.32 L78.98,107.66 L78.8,108.01 L78.61,108.36 L78.43,108.71 L78.25,109.06 L78.07,109.39 L77.9,109.71 L77.72,110.01 L77.55,110.29 L77.37,110.54 L77.2,110.75 L77.03,110.93 L76.86,111.08 L76.7,111.18 L76.53,111.24 L76.37,111.25 L76.2,111.21 L76.04,111.13 L75.88,110.99 L75.72,110.8 L75.57,110.56 L75.41,110.28 L75.26,109.94 L75.11,109.55 L74.96,109.12 L74.81,108.65 L74.66,108.13 L74.51,107.57 L74.37,106.98 L74.22,106.36 L74.08,105.7 L73.94,105.03 L73.8,104.33 L73.66,103.62 L73.53,102.9 L73.39,102.17 L73.26,101.44 L73.13,100.72 L73,100 L72.87,99.3 L72.74,98.61 L72.61,97.95 L72.49,97.31 L72.36,96.7 L72.24,96.13 L72.12,95.59 L72,95.09 L71.88,94.64 L71.76,94.23 L71.65,93.87 L71.53,93.55 L71.42,93.29 L71.31,93.07 L71.2,92.91 L71.09,92.8 L70.98,92.73 L70.88,92.72 L70.77,92.75 L70.67,92.82 L70.57,92.94 L70.47,93.1 L70.37,93.29 L70.27,93.52 L70.17,93.77 L70.08,94.05 L69.98,94.35 L69.89,94.67 L69.8,95 L69.71,95.34 L69.62,95.68 L69.53,96.02 L69.44,96.35 L69.36,96.68 L69.27,96.98 L69.19,97.27 L69.11,97.53 L69.03,97.76 L68.95,97.96 L68.87,98.12 L68.79,98.25 L68.72,98.33 L68.64,98.37 L68.57,98.37 L68.5,98.31 L68.42,98.21 L68.35,98.05 L68.29,97.85 L68.22,97.59 L68.15,97.29 L68.09,96.93 L68.02,96.53 L67.96,96.08 L67.9,95.59 L67.84,95.06 L67.78,94.49 L67.72,93.88 L67.66,93.24 L67.6,92.57 L67.55,91.88 L67.49,91.17 L67.44,90.45 L67.39,89.71 L67.34,88.97 L67.29,88.23 L67.24,87.49 L67.19,86.75 L67.14,86.04 L67.1,85.33 L67.05,84.65 L67.01,83.99 L66.96,83.37 L66.92,82.77 L66.88,82.22 L66.84,81.7 L66.8,81.22 L66.77,80.79 L66.73,80.4 L66.69,80.07 L66.66,79.78 L66.62,79.54 L66.59,79.35 L66.56,79.21 L66.53,79.12 L66.5,79.08 L66.47,79.09 L66.44,79.14 L66.41,79.23 L66.39,79.37 L66.36,79.54 L66.34,79.75 L66.32,79.98 L66.29,80.25 L66.27,80.54 L66.25,80.84 L66.23,81.16 L66.21,81.49 L66.2,81.83 L66.18,82.17 L66.16,82.5 L66.15,82.83 L66.13,83.14 L66.12,83.44 L66.11,83.71 L66.1,83.96 L66.09,84.18 L66.08,84.37 L66.07,84.52 L66.06,84.63 L66.05,84.7 L66.05,84.73 L66.04,84.71 L66.04,84.64 L66.04,84.53 L66.03,84.37 L66.03,84.15 L66.03,83.89 L66.03,81.47 L66.03,81.16 L66.04,80.81 L66.04,80.44 L66.04,80.03 L66.05,79.61 L66.05,79.16 L66.06,78.68 L66.07,78.19 L66.08,77.68 L66.09,77.16 L66.1,76.62 L66.11,76.08 L66.12,75.53 L66.13,74.97 L66.15,74.41 L66.16,73.86 L66.18,73.31 L66.2,72.76 L66.21,72.23 L66.23,71.71 L66.25,71.2 L66.27,70.71 L66.29,70.24 L66.32,69.8 L66.34,69.37 L66.36,68.98 L66.39,68.61 L66.41,68.26 L66.44,67.95 L66.47,67.67 L66.5,67.41 L66.53,67.19 L66.56,67 L66.59,66.84 L66.62,66.71 L66.66,66.6 L66.69,66.53 L66.73,66.48 L66.77,66.46 L66.8,66.47 L66.84,66.49 L66.88,66.54 L66.92,66.6 L66.96,66.68 L67.01,66.77 L67.05,66.87 L67.1,66.98 L67.14,67.1 L67.19,67.21 L67.24,67.33 L67.29,67.45 L67.34,67.56 L67.39,67.66 L67.44,67.75 L67.49,67.82 L67.55,67.88 L67.6,67.92 L67.66,67.95 L67.72,67.95 L67.78,67.92 L67.84,67.87 L67.9,67.79 L67.96,67.69 L68.02,67.55 L68.09,67.39 L68.15,67.2 L68.22,66.97 L68.29,66.72 L68.35,66.44 L68.42,66.13 L68.5,65.78 L68.57,65.42 L68.64,65.02 L68.72,64.6 L68.79,64.16 L68.87,63.7 L68.95,63.22 L69.03,62.72 L69.11,62.2 L69.19,61.68 L69.27,61.14 L69.36,60.6 L69.44,60.06 L69.53,59.51 L69.62,58.96 L69.71,58.42 L69.8,57.88 L69.89,57.35 L69.98,56.83 L70.08,56.33 L70.17,55.84 L70.27,55.38 L70.37,54.93 L70.47,54.5 L70.57,54.1 L70.67,53.72 L70.77,53.38 L70.88,53.05 L70.98,52.76 L71.09,52.5 L71.2,52.26 L71.31,52.06 L71.42,51.89 L71.53,51.74 L71.65,51.63 L71.76,51.54 L71.88,51.48 L72,51.45 L72.12,51.44 L72.24,51.45 L72.36,51.48 L72.49,51.54 L72.61,51.61 L72.74,51.69 L72.87,51.79 L73,51.9 L73.13,52.02 L73.26,52.14 L73.39,52.26 L73.53,52.38 L73.66,52.5 L73.8,52.62 L73.94,52.72 L74.08,52.82 L74.22,52.9 L74.37,52.97 L74.51,53.02 L74.66,53.05 L74.81,53.06 L74.96,53.05 L75.11,53.01 L75.26,52.95 L75.41,52.86 L75.57,52.75 L75.72,52.6 L75.88,52.43 L76.04,52.23 L76.2,52 L76.37,51.74 L76.53,51.45 L76.7,51.14 L76.86,50.8 L77.03,50.43 L77.2,50.04 L77.37,49.63 L77.55,49.2 L77.72,48.75 L77.9,48.28 L78.07,47.8 L78.25,47.3 L78.43,46.8 L78.61,46.29 L78.8,45.77 L78.98,45.25 L79.17,44.73 L79.35,44.22 L79.54,43.71 L79.73,43.2 L79.93,42.71 L80.12,42.23 L80.31,41.76 L80.51,41.31 L80.71,40.88 L80.91,40.47 L81.11,40.09 L81.31,39.73 L81.51,39.39 L81.72,39.08 L81.93,38.8 L82.13,38.54 L82.34,38.32 L82.55,38.12 L82.77,37.95 L82.98,37.82 L83.19,37.71 L83.41,37.63 L83.63,37.58 L83.85,37.55 L84.07,37.55 L84.29,37.57 L84.51,37.62 L84.74,37.69 L84.96,37.77 L85.19,37.87 L85.42,37.99 L85.65,38.12 L85.88,38.26 L86.12,38.41 L86.35,38.56 L86.59,38.72 L86.82,38.88 L87.06,39.03 L87.3,39.18 L87.54,39.33 L87.78,39.46 L88.03,39.58 L88.27,39.69 L88.52,39.78 L88.77,39.86 L89.02,39.92 L89.27,39.95 L89.52,39.96 L89.77,39.95 L90.02,39.91 L90.28,39.85 L90.53,39.76 L90.79,39.65 L91.05,39.5 L91.31,39.33 L91.57,39.14 L91.83,38.91 L92.1,38.66 L92.36,38.38 L92.63,38.08 L92.89,37.76 L93.16,37.41 L93.43,37.05 L93.7,36.66 L93.97,36.26 L94.25,35.84 L94.52,35.41 L94.79,34.97 L95.07,34.52 L95.35,34.07 L95.62,33.61 L95.9,33.15 L96.18,32.69 L96.46,32.24 L96.75,31.79 L97.03,31.35 L97.31,30.92 L97.6,30.5 L97.89,30.1 L98.17,29.72 L98.46,29.36 L98.75,29.01 L99.04,28.69 L99.33,28.39 L99.62,28.12 L99.91,27.87 L100.21,27.66 L100.5,27.46 L100.8,27.3 L101.09,27.17 L101.39,27.06 L101.69,26.99 L101.99,26.94 L102.29,26.92 L102.59,26.93 L102.89,26.96 L103.19,27.02 L103.49,27.1 L103.8,27.2 L104.1,27.33 L104.41,27.47 L104.71,27.63 L105.02,27.8 L105.32,27.99 L105.63,28.19 L105.94,28.4 L106.25,28.61 L106.56,28.82 L106.87,29.04 L107.18,29.26 L107.49,29.47 L107.81,29.68 L108.12,29.88 L108.43,30.07 L108.75,30.24 L109.06,30.4 L109.38,30.55 L109.69,30.68 L110.01,30.78 L110.33,30.87 L110.65,30.93 L110.96,30.97 L111.28,30.99 L111.6,30.98 L111.92,30.94 L112.24,30.88 L112.56,30.79 L112.89,30.67 L113.21,30.53 L113.53,30.36 L113.85,30.17 L114.18,29.95 L114.5,29.71 L114.82,29.45 L115.15,29.17 L115.47,28.86 L115.8,28.54 L116.12,28.21 L116.45,27.86 L116.78,27.5 L117.1,27.13 L117.43,26.75 L117.76,26.36 L118.08,25.98 L118.41,25.59 L118.74,25.2 L119.07,24.82 L119.4,24.45 L119.73,24.08 L120.06,23.72 L120.39,23.38 L120.72,23.05 L121.05,22.74 L121.38,22.45 L121.71,22.18 L122.04,21.93 L122.37,21.7 L122.7,21.5 L123.04,21.32 L123.37,21.17 L123.7,21.05 L124.03,20.95 L124.37,20.89 L124.7,20.85 L125.03,20.83 L125.37,20.85 L125.7,20.89 L126.03,20.96 L126.37,21.05 L126.7,21.17 L127.04,21.31 L127.37,21.48 L127.7,21.66 L128.04,21.86 L128.37,22.08 L128.71,22.31 L129.04,22.56 L129.38,22.82 L129.71,23.08 L130.05,23.35 L130.38,23.63 L130.72,23.9 L131.06,24.18 L131.39,24.45 L131.73,24.72 L132.06,24.98 L132.4,25.23 L132.74,25.46 L133.07,25.69 L133.41,25.9 L133.74,26.09 L134.08,26.26 L134.42,26.41 L134.75,26.54 L135.09,26.65 L135.43,26.73 L135.76,26.79 L136.1,26.82 L136.44,26.83 L136.77,26.81 L137.11,26.76 L137.45,26.69 L137.78,26.59 L138.12,26.47 L138.46,26.32 L138.8,26.15 L139.13,25.95 L139.47,25.74 L139.81,25.5 L140.14,25.25 L140.48,24.98 L140.82,24.7 L141.15,24.4 L141.49,24.09 L141.83,23.77 L142.17,23.45 L142.5,23.12 L142.84,22.79 L143.18,22.46 L143.52,22.13 L143.85,21.81 L144.19,21.49 L144.53,21.18 L144.86,20.88 L145.2,20.6 L145.54,20.33 L145.88,20.08 L146.21,19.85 L146.55,19.64 L146.89,19.45 L147.23,19.28 L147.56,19.13 L147.9,19.02 L148.24,18.92 L148.58,18.86 L148.91,18.82 L149.25,18.81 L149.59,18.82 L149.93,18.87 L150.26,18.94 L150.6,19.03 L150.94,19.15 L151.28,19.3 L151.61,19.47 L151.95,19.66 L152.29,19.64 L152.62,19.76 L152.96,19.9 L153.3,20.07 L153.64,20.25 L153.97,20.45 L154.31,20.67 L154.65,20.9 L154.99,21.14 L155.32,21.39 L155.66,21.66 L156,21.93 L156.34,22.21 L156.67,22.49 L157.01,22.78 L157.35,23.07 L157.69,23.36 L158.02,23.65 L158.36,23.94 L158.7,24.22 L159.04,24.49 L159.37,24.76 L159.71,25.02 L160.05,25.26 L160.38,25.5 L160.72,25.71 L161.06,25.92 L161.4,26.1 L161.73,26.27 L162.07,26.42 L162.41,26.55 L162.75,26.65 L163.08,26.74 L163.42,26.8 L163.76,26.84 L164.09,26.85 L164.43,26.85 L164.77,26.82 L165.1,26.76 L165.44,26.69 L165.78,26.59 L166.12,26.46 L166.45,26.32 L166.79,26.16 L167.13,25.98 L167.46,25.78 L167.8,25.56 L168.14,25.33 L168.47,25.08 L168.81,24.82 L169.15,24.55 L169.48,24.28 L169.82,23.99 L170.16,23.7 L170.49,23.41 L170.83,23.12 L171.16,22.83 L171.5,22.54 L171.84,22.26 L172.17,21.98 L172.51,21.72 L172.84,21.46 L173.18,21.22 L173.52,21 L173.85,20.79 L174.19,20.6 L174.52,20.43 L174.86,20.29 L175.19,20.16 L175.53,20.06 L175.86,19.99 L176.2,19.94 L176.53,19.92 L176.86,19.93 L177.2,19.96 L177.53,20.03 L177.87,20.12 L178.2,20.24 L178.53,20.39 L178.87,20.57 L179.2,20.77 L179.53,21 L179.87,21.25 L180.2,21.53 L180.53,21.82 L180.86,22.14 L181.2,22.48 L181.53,22.84 L181.86,23.21 L182.19,23.6 L182.52,23.99 L182.85,24.4 L183.18,24.81 L183.51,25.23 L183.84,25.65 L184.17,26.07 L184.5,26.49 L184.83,26.91 L185.16,27.31 L185.49,27.71 L185.82,28.1 L186.14,28.47 L186.47,28.82 L186.8,29.16 L187.12,29.48 L187.45,29.78 L187.78,30.06 L188.1,30.31 L188.43,30.53 L188.75,30.73 L189.08,30.9 L189.4,31.05 L189.72,31.16 L190.05,31.25 L190.37,31.3 L190.69,31.33 L191.01,31.32 L191.34,31.29 L191.66,31.23 L191.98,31.15 L192.3,31.04 L192.62,30.9 L192.94,30.74 L193.25,30.56 L193.57,30.36 L193.89,30.14 L194.21,29.9 L194.52,29.66 L194.84,29.4 L195.15,29.13 L195.47,28.85 L195.78,28.58 L196.09,28.3 L196.41,28.02 L196.72,27.74 L197.03,27.47 L197.34,27.22 L197.65,26.97 L197.96,26.73 L198.27,26.52 L198.58,26.32 L198.88,26.14 L199.19,25.99 L199.49,25.86 L199.8,25.75 L200.1,25.68 L200.41,25.63 L200.71,25.62 L201.01,25.63 L201.31,25.68 L201.61,25.76 L201.91,25.88 L202.21,26.03 L202.51,26.21 L202.81,26.42 L203.1,26.67 L203.4,26.95 L203.69,27.25 L203.99,27.59 L204.28,27.96 L204.57,28.35 L204.86,28.76 L205.15,29.2 L205.44,29.66 L205.73,30.14 L206.01,30.63 L206.3,31.13 L206.59,31.65 L206.87,32.17 L207.15,32.7 L207.44,33.23 L207.72,33.75 L208,34.28 L208.28,34.8 L208.55,35.31 L208.83,35.8 L209.11,36.29 L209.38,36.75 L209.65,37.2 L209.93,37.63 L210.2,38.03 L210.47,38.4 L210.74,38.75 L211.01,39.07 L211.27,39.36 L211.54,39.62 L211.8,39.85 L212.07,40.05 L212.33,40.21 L212.59,40.33 L212.85,40.43 L213.11,40.49 L213.37,40.52 L213.62,40.52 L213.88,40.49 L214.13,40.43 L214.38,40.34 L214.63,40.23 L214.88,40.09 L215.13,39.94 L215.38,39.76 L215.63,39.57 L215.87,39.36 L216.12,39.14 L216.36,38.91 L216.6,38.67 L216.84,38.44 L217.08,38.2 L217.31,37.96 L217.55,37.74 L217.78,37.52 L218.02,37.31 L218.25,37.12 L218.48,36.94 L218.71,36.79 L218.94,36.65 L219.16,36.54 L219.39,36.46 L219.61,36.41 L219.83,36.39 L220.05,36.39 L220.27,36.44 L220.49,36.51 L220.71,36.63 L220.92,36.77 L221.13,36.96 L221.35,37.17 L221.56,37.43 L221.77,37.72 L221.97,38.04 L222.18,38.4 L222.39,38.79 L222.59,39.21 L222.79,39.65 L222.99,40.13 L223.19,40.63 L223.39,41.15 L223.59,41.69 L223.78,42.25 L223.97,42.82 L224.17,43.4 L224.36,43.99 L224.55,44.59 L224.73,45.18 L224.92,45.78 L225.1,46.37 L225.29,46.96 L225.47,47.53 L225.65,48.09 L225.83,48.64 L226,49.17 L226.18,49.67 L226.35,50.15 L226.53,50.61 L226.7,51.03 L226.87,51.43 L227.04,51.8 L227.2,52.13 L227.37,52.43 L227.53,52.69 L227.7,52.92 L227.86,53.12 L228.02,53.28 L228.18,53.4 L228.33,53.49 L228.49,53.55 L228.64,53.57 L228.79,53.56 L228.94,53.53 L229.09,53.46 L229.24,53.37 L229.39,53.26 L229.53,53.13 L229.68,52.98 L229.82,52.81 L229.96,52.63 L230.1,52.45 L230.24,52.25 L230.37,52.06 L230.51,51.86 L230.64,51.67 L230.77,51.48 L230.9,51.31 L231.03,51.15 L231.16,51 L231.29,50.87 L231.41,50.77 L231.54,50.68 L231.66,50.63 L231.78,50.6 L231.9,50.6 L232.02,50.63 L232.14,50.7 L232.25,50.8 L232.37,50.94 L232.48,51.11 L232.59,51.32 L232.7,51.57 L232.81,51.85 L232.92,52.16 L233.02,52.52 L233.13,52.9 L233.23,53.31 L233.33,53.76 L233.43,54.23 L233.53,54.73 L233.63,55.26 L233.73,55.8 L233.82,56.37 L233.92,56.95 L234.01,57.54 L234.1,58.14 L234.19,58.74 L234.28,59.35 L234.37,59.96 L234.46,60.57 L234.54,61.17 L234.63,61.75 L234.71,62.33 L234.79,62.89 L234.87,63.43 L234.95,63.94 L235.03,64.44 L235.11,64.91 L235.18,65.34 L235.26,65.75 L235.33,66.13 L235.4,66.47 L235.48,66.78 L235.55,67.05 L235.61,67.29 L235.68,67.49 L235.75,67.65 L235.81,67.78 L235.88,67.88 L235.94,67.94 L236,67.97 L236.06,67.97 L236.12,67.94 L236.18,67.89 L236.24,67.81 L236.3,67.71 L236.35,67.59 L236.41,67.45 L236.46,67.31 L236.51,67.15 L236.56,66.99 L236.61,66.82 L236.66,66.66 L236.71,66.49 L236.76,66.34 L236.8,66.19 L236.85,66.06 L236.89,65.95 L236.94,65.85 L236.98,65.78 L237.02,65.73 L237.06,65.71 L237.1,65.72 L237.13,65.76 L237.17,65.84 L237.21,65.94 L237.24,66.09 L237.28,66.26 L237.31,66.48 L237.34,66.73 L237.37,67.01 L237.4,67.34 L237.43,67.69 L237.46,68.08 L237.49,68.5 L237.51,68.95 L237.54,69.43 L237.56,69.93 L237.58,70.46 L237.61,71.01 L237.63,71.57 L237.65,72.15 L237.67,72.74 L237.69,73.33 L237.7,73.93 L237.72,74.53 L237.74,75.12 L237.75,75.71 L237.77,76.28 L237.78,76.84 L237.79,77.38 L237.8,77.91 L237.81,78.4 L237.82,78.87 L237.83,79.31 L237.84,79.72 L237.85,80.09 L237.85,80.42 L237.86,80.71 L237.86,80.96 L237.86,81.17 L237.87,81.32 L237.87,81.41 L237.87,81.37 L237.87,81.96 L237.87,81.94 L237.86,81.88 L237.86,81.81 L237.86,81.71 L237.85,81.58 L237.85,81.44 L237.84,81.29 L237.83,81.12 L237.82,80.95 L237.81,80.76 L237.8,80.57 L237.79,80.39 L237.78,80.2 L237.77,80.02 L237.75,79.85 L237.74,79.69 L237.72,79.55 L237.7,79.42 L237.69,79.32 L237.67,79.23 L237.65,79.17 L237.63,79.14 L237.61,79.14 L237.58,79.16 L237.56,79.22 L237.54,79.31 L237.51,79.44 L237.49,79.6 L237.46,79.79 L237.43,80.02 L237.4,80.29 L237.37,80.59 L237.34,80.92 L237.31,81.29 L237.28,81.68 L237.24,82.11 L237.21,82.57 L237.17,83.05 L237.13,83.55 L237.1,84.08 L237.06,84.62 L237.02,85.18 L236.98,85.76 L236.94,86.34 L236.89,86.93 L236.85,87.53 L236.8,88.12 L236.76,88.72 L236.71,89.3 L236.66,89.88 L236.61,90.45 L236.56,91 L236.51,91.54 L236.46,92.05 L236.41,92.54 L236.35,93.01 L236.3,93.45 L236.24,93.86 L236.18,94.24 L236.12,94.58 L236.06,94.89 L236,95.17 L235.94,95.42 L235.88,95.62 L235.81,95.79 L235.75,95.93 L235.68,96.03 L235.61,96.1 L235.55,96.13 L235.48,96.13 L235.4,96.1 L235.33,96.04 L235.26,95.96 L235.18,95.85 L235.11,95.72 L235.03,95.58 L234.95,95.41 L234.87,95.24 L234.79,95.05 L234.71,94.86 L234.63,94.66 L234.54,94.46 L234.46,94.27 L234.37,94.08 L234.28,93.9 L234.19,93.74 L234.1,93.59 L234.01,93.45 L233.92,93.34 L233.82,93.26 L233.73,93.2 L233.63,93.16 L233.53,93.16 L233.43,93.19 L233.33,93.25 L233.23,93.35 L233.13,93.48 L233.02,93.65 L232.92,93.85 L232.81,94.09 L232.7,94.37 L232.59,94.68 L232.48,95.03 L232.37,95.4 L232.25,95.81 L232.14,96.25 L232.02,96.72 L231.9,97.21 L231.78,97.73 L231.66,98.26 L231.54,98.82 L231.41,99.38 L231.29,99.96 L231.16,100.55 L231.03,101.14 L230.9,101.74 L230.77,102.33 L230.64,102.91 L230.51,103.49 L230.37,104.06 L230.24,104.61 L230.1,105.14 L229.96,105.66 L229.82,106.15 L229.68,106.61 L229.53,107.05 L229.39,107.45 L229.24,107.82 L229.09,108.16 L228.94,108.47 L228.79,108.73 L228.64,108.96 L228.49,109.16 L228.33,109.31 L228.18,109.43 L228.02,109.52 L227.86,109.56 L227.7,109.58 L227.53,109.56 L227.37,109.5 L227.2,109.42 L227.04,109.31 L226.87,109.18 L226.7,109.03 L226.53,108.85 L226.35,108.66 L226.18,108.46 L226,108.24 L225.83,108.02 L225.65,107.8 L225.47,107.58 L225.29,107.36 L225.1,107.14 L224.92,106.94 L224.73,106.75 L224.55,106.58 L224.36,106.43 L224.17,106.3 L223.97,106.2 L223.78,106.12 L223.59,106.08 L223.39,106.06 L223.19,106.08 L222.99,106.13 L222.79,106.22 L222.59,106.35 L222.39,106.51 L222.18,106.71 L221.97,106.94 L221.77,107.21 L221.56,107.52 L221.35,107.86 L221.13,108.23 L220.92,108.64 L220.71,109.07 L220.49,109.53 L220.27,110.02 L220.05,110.52 L219.83,111.04 L219.61,111.58 L219.39,112.13 L219.16,112.69 L218.94,113.26 L218.71,113.83 L218.48,114.39 L218.25,114.95 L218.02,115.5 L217.78,116.04 L217.55,116.57 L217.31,117.07 L217.08,117.55 L216.84,118.01 L216.6,118.45 L216.36,118.85 L216.12,119.22 L215.87,119.56 L215.63,119.86 L215.38,120.12 L215.13,120.35 L214.88,120.54 L214.63,120.69 L214.38,120.8 L214.13,120.88 L213.88,120.91 L213.62,120.91 L213.37,120.87 L213.11,120.8 L212.85,120.7 L212.59,120.56 L212.33,120.4 L212.07,120.22 L211.8,120.01 L211.54,119.78 L211.27,119.53 L211.01,119.27 L210.74,119.01 L210.47,118.73 L210.2,118.46 L209.93,118.18 L209.65,117.91 L209.38,117.65 L209.11,117.4 L208.83,117.17 L208.55,116.95 L208.28,116.76 L208,116.59 L207.72,116.44 L207.44,116.33 L207.15,116.25 L206.87,116.2 L206.59,116.18 L206.3,116.2 L206.01,116.26 L205.73,116.35 L205.44,116.49 L205.15,116.66 L204.86,116.86 L204.57,117.11 L204.28,117.38 L203.99,117.7 L203.69,118.04 L203.4,118.42 L203.1,118.82 L202.81,119.25 L202.51,119.7 L202.21,120.17 L201.91,120.65 L201.61,121.15 L201.31,121.66 L201.01,122.18 L200.71,122.7 L200.41,123.21 L200.1,123.72 L199.8,124.23 L199.49,124.72 L199.19,125.19 L198.88,125.65 L198.58,126.08 L198.27,126.49 L197.96,126.87 L197.65,127.22 L197.34,127.54 L197.03,127.83 L196.72,128.08 L196.41,128.29 L196.09,128.46 L195.78,128.59 L195.47,128.68 L195.15,128.73 L194.84,128.75 L194.52,128.72 L194.21,128.66 L193.89,128.56 L193.57,128.42 L193.25,128.26 L192.94,128.06 L192.62,127.83 L192.3,127.58 L191.98,127.3 L191.66,127.01 L191.34,126.7 L191.01,126.37 L190.69,126.04 L190.37,125.71 L190.05,125.37 L189.72,125.03 L189.4,124.7 L189.08,124.38 L188.75,124.07 L188.43,123.78 L188.1,123.51 L187.78,123.26 L187.45,123.04 L187.12,122.84 L186.8,122.68 L186.47,122.55 L186.14,122.45 L185.82,122.39 L185.49,122.37 L185.16,122.38 L184.83,122.44 L184.5,122.53 L184.17,122.66 L183.84,122.83 L183.51,123.03 L183.18,123.27 L182.85,123.54 L182.52,123.85 L182.19,124.19 L181.86,124.55 L181.53,124.94 L181.2,125.35 L180.86,125.77 L180.53,126.22 L180.2,126.67 L179.87,127.13 L179.53,127.6 L179.2,128.06 L178.87,128.53 L178.53,128.98 L178.2,129.43 L177.87,129.86 L177.53,130.27 L177.2,130.66 L176.86,131.03 L176.53,131.37 L176.2,131.68 L175.86,131.96 L175.53,132.2 L175.19,132.41 L174.86,132.58 L174.52,132.71 L174.19,132.8 L173.85,132.85 L173.52,132.86 L173.18,132.83 L172.84,132.76 L172.51,132.65 L172.17,132.5 L171.84,132.32 L171.5,132.1 L171.16,131.86 L170.83,131.58 L170.49,131.28 L170.16,130.95 L169.82,130.61 L169.48,130.25 L169.15,129.87 L168.81,129.49 L168.47,129.1 L168.14,128.71 L167.8,128.32 L167.46,127.94 L167.13,127.57 L166.79,127.21 L166.45,126.87 L166.12,126.55 L165.78,126.25 L165.44,125.97 L165.1,125.73 L164.77,125.52 L164.43,125.34 L164.09,125.2 L163.76,125.09 L163.42,125.02 L163.08,124.99 L162.75,125 L162.41,125.05 L162.07,125.14 L161.73,125.27 L161.4,125.43 L161.06,125.63 L160.72,125.87 L160.38,126.13 L160.05,126.43 L159.71,126.76 L159.37,127.11 L159.04,127.48 L158.7,127.87 L158.36,128.27 L158.02,128.69 L157.69,129.11 L157.35,129.54 L157.01,129.97 L156.67,130.39 L156.34,130.81 L156,131.21 L155.66,131.6 L155.32,131.97 L154.99,132.32 L154.65,132.64 L154.31,132.94 L153.97,133.2 L153.64,133.44 L153.3,133.63 L152.96,133.79 L152.62,133.91 L152.29,134 L151.95,134.04" fill="none" stroke="#000" stroke-width="1.3" stroke-linejoin="round"/><rect x="42.5" y="10.7" width="218.9" height="134.8" fill="none" stroke="#2e2e2e" stroke-width="1.25"/><path d="M42.5,145.5 v3 M56.18,145.5 v1.6 M69.86,145.5 v3 M83.54,145.5 v1.6 M97.22,145.5 v3 M110.91,145.5 v1.6 M124.59,145.5 v3 M138.27,145.5 v1.6 M151.95,145.5 v3 M165.63,145.5 v1.6 M179.31,145.5 v3 M192.99,145.5 v1.6 M206.67,145.5 v3 M220.36,145.5 v1.6 M234.04,145.5 v3 M247.72,145.5 v1.6 M261.4,145.5 v3 M42.5,145.5 h-3 M42.5,128.65 h-1.6 M42.5,111.8 h-3 M42.5,94.95 h-1.6 M42.5,78.1 h-3 M42.5,61.25 h-1.6 M42.5,44.4 h-3 M42.5,27.55 h-1.6 M42.5,10.7 h-3" stroke="#2e2e2e" stroke-width="1.1" fill="none"/><text x="40.1" y="159.6" text-anchor="middle" font-size="11.5">−<tspan dx="0.9">8</tspan></text><text x="67.46" y="159.6" text-anchor="middle" font-size="11.5">−<tspan dx="0.9">6</tspan></text><text x="94.82" y="159.6" text-anchor="middle" font-size="11.5">−<tspan dx="0.9">4</tspan></text><text x="122.19" y="159.6" text-anchor="middle" font-size="11.5">−<tspan dx="0.9">2</tspan></text><text x="151.95" y="159.6" text-anchor="middle" font-size="11.5">0</text><text x="179.31" y="159.6" text-anchor="middle" font-size="11.5">2</text><text x="206.67" y="159.6" text-anchor="middle" font-size="11.5">4</text><text x="234.04" y="159.6" text-anchor="middle" font-size="11.5">6</text><text x="261.4" y="159.6" text-anchor="middle" font-size="11.5">8</text><text x="38" y="14.3" text-anchor="end" font-size="11.5">1.0</text><text x="38" y="48" text-anchor="end" font-size="11.5">0.5</text><text x="38" y="81.7" text-anchor="end" font-size="11.5">0.0</text><text x="38" y="115.4" text-anchor="end" font-size="11.5">−<tspan dx="0.8">0.5</tspan></text><text x="38" y="149.1" text-anchor="end" font-size="11.5">−<tspan dx="0.8">1.0</tspan></text><text x="151.95" y="171.8" text-anchor="middle" font-size="12.25">Angular velocity×10 (deg/s)</text><text transform="translate(15.3,86.6) rotate(-90)" text-anchor="middle" font-size="12.25">Angular acceleration×10<tspan font-size="8" dy="-5.5">3</tspan><tspan dy="5.5"> (deg/s</tspan><tspan font-size="8" dy="-5.5">2</tspan><tspan dy="5.5">)</tspan></text><text x="133" y="193" text-anchor="middle" font-size="14.5" style="stroke-width:0.05px">(<tspan font-weight="bold" font-size="14.5" style="stroke-width:0.2px">a</tspan>)</text><path d="M128,95.6 h21.5" stroke="#000" stroke-width="1.2" stroke-dasharray="4.8 3.2"/><path d="M128,109.3 h24.5" stroke="#000" stroke-width="1.2"/><text x="156" y="99" font-size="11">Ideal</text><text x="156" y="112.7" font-size="11">Rigid</text></g><g><path d="M518.9,78.1 L518.9,77.23 L518.87,76.35 L518.84,75.48 L518.79,74.6 L518.72,73.73 L518.64,72.85 L518.55,71.98 L518.44,71.1 L518.31,70.23 L518.17,69.36 L518.01,68.48 L517.84,67.61 L517.65,66.74 L517.44,65.86 L517.21,64.99 L516.97,64.12 L516.71,63.25 L516.43,62.39 L516.14,61.52 L515.82,60.65 L515.48,59.79 L515.13,58.93 L514.75,58.07 L514.36,57.22 L513.94,56.36 L513.5,55.51 L513.04,54.67 L512.56,53.83 L512.05,52.99 L511.52,52.16 L510.97,51.33 L510.4,50.51 L509.8,49.69 L509.18,48.88 L508.54,48.08 L507.87,47.28 L507.18,46.5 L506.47,45.72 L505.73,44.95 L504.97,44.18 L504.19,43.43 L503.38,42.69 L502.55,41.96 L501.69,41.23 L500.82,40.52 L499.92,39.82 L499,39.14 L498.06,38.46 L497.09,37.8 L496.11,37.15 L495.1,36.51 L494.08,35.89 L493.03,35.28 L491.97,34.68 L490.89,34.1 L489.79,33.54 L488.67,32.98 L487.54,32.45 L486.39,31.92 L485.22,31.42 L484.04,30.93 L482.85,30.45 L481.64,29.99 L480.43,29.54 L479.19,29.11 L477.95,28.7 L476.7,28.29 L475.44,27.91 L474.17,27.54 L472.89,27.18 L471.6,26.84 L470.3,26.52 L469,26.2 L467.69,25.91 L466.38,25.62 L465.06,25.35 L463.74,25.1 L462.41,24.85 L461.08,24.62 L459.74,24.41 L458.4,24.2 L457.06,24.01 L455.72,23.83 L454.37,23.66 L453.03,23.5 L451.68,23.36 L450.33,23.23 L448.98,23.1 L447.63,22.99 L446.28,22.89 L444.93,22.8 L443.57,22.71 L442.22,22.64 L440.87,22.58 L439.52,22.53 L438.16,22.49 L436.81,22.45 L435.46,22.43 L434.1,22.42 L432.75,22.41 L431.4,22.42 L430.04,22.43 L428.69,22.45 L427.34,22.49 L425.98,22.53 L424.63,22.58 L423.28,22.64 L421.93,22.71 L420.57,22.8 L419.22,22.89 L417.87,22.99 L416.52,23.1 L415.17,23.23 L413.82,23.36 L412.47,23.5 L411.13,23.66 L409.78,23.83 L408.44,24.01 L407.1,24.2 L405.76,24.41 L404.42,24.62 L403.09,24.85 L401.76,25.1 L400.44,25.35 L399.12,25.62 L397.81,25.91 L396.5,26.2 L395.2,26.52 L393.9,26.84 L392.61,27.18 L391.33,27.54 L390.06,27.91 L388.8,28.29 L387.55,28.7 L386.31,29.11 L385.07,29.54 L383.86,29.99 L382.65,30.45 L381.46,30.93 L380.28,31.42 L379.11,31.92 L377.96,32.45 L376.83,32.98 L375.71,33.54 L374.61,34.1 L373.53,34.68 L372.47,35.28 L371.42,35.89 L370.4,36.51 L369.39,37.15 L368.41,37.8 L367.44,38.46 L366.5,39.14 L365.58,39.82 L364.68,40.52 L363.81,41.23 L362.95,41.96 L362.12,42.69 L361.31,43.43 L360.53,44.18 L359.77,44.95 L359.03,45.72 L358.32,46.5 L357.63,47.28 L356.96,48.08 L356.32,48.88 L355.7,49.69 L355.1,50.51 L354.53,51.33 L353.98,52.16 L353.45,52.99 L352.94,53.83 L352.46,54.67 L352,55.51 L351.56,56.36 L351.14,57.22 L350.75,58.07 L350.37,58.93 L350.02,59.79 L349.68,60.65 L349.36,61.52 L349.07,62.39 L348.79,63.25 L348.53,64.12 L348.29,64.99 L348.06,65.86 L347.85,66.74 L347.66,67.61 L347.49,68.48 L347.33,69.36 L347.19,70.23 L347.06,71.1 L346.95,71.98 L346.86,72.85 L346.78,73.73 L346.71,74.6 L346.66,75.48 L346.63,76.35 L346.6,77.23 L346.6,78.1 L346.6,78.91 L346.63,79.72 L346.66,80.53 L346.71,81.34 L346.78,82.16 L346.86,82.97 L346.95,83.78 L347.06,84.59 L347.19,85.4 L347.33,86.21 L347.49,87.02 L347.66,87.83 L347.85,88.64 L348.06,89.45 L348.29,90.25 L348.53,91.06 L348.79,91.87 L349.07,92.67 L349.36,93.48 L349.68,94.28 L350.02,95.08 L350.37,95.88 L350.75,96.67 L351.14,97.47 L351.56,98.26 L352,99.04 L352.46,99.83 L352.94,100.61 L353.45,101.38 L353.98,102.16 L354.53,102.92 L355.1,103.69 L355.7,104.44 L356.32,105.19 L356.96,105.94 L357.63,106.67 L358.32,107.41 L359.03,108.13 L359.77,108.84 L360.53,109.55 L361.31,110.25 L362.12,110.94 L362.95,111.62 L363.81,112.29 L364.68,112.94 L365.58,113.59 L366.5,114.23 L367.44,114.86 L368.41,115.47 L369.39,116.07 L370.4,116.66 L371.42,117.24 L372.47,117.81 L373.53,118.36 L374.61,118.9 L375.71,119.42 L376.83,119.93 L377.96,120.43 L379.11,120.92 L380.28,121.39 L381.46,121.84 L382.65,122.29 L383.86,122.71 L385.07,123.13 L386.31,123.53 L387.55,123.91 L388.8,124.28 L390.06,124.64 L391.33,124.98 L392.61,125.31 L393.9,125.63 L395.2,125.93 L396.5,126.22 L397.81,126.5 L399.12,126.76 L400.44,127.01 L401.76,127.25 L403.09,127.47 L404.42,127.69 L405.76,127.89 L407.1,128.08 L408.44,128.26 L409.78,128.42 L411.13,128.58 L412.47,128.72 L413.82,128.86 L415.17,128.98 L416.52,129.1 L417.87,129.2 L419.22,129.3 L420.57,129.38 L421.93,129.46 L423.28,129.52 L424.63,129.58 L425.98,129.63 L427.34,129.67 L428.69,129.7 L430.04,129.72 L431.4,129.73 L432.75,129.74 L434.1,129.73 L435.46,129.72 L436.81,129.7 L438.16,129.67 L439.52,129.63 L440.87,129.58 L442.22,129.52 L443.57,129.46 L444.93,129.38 L446.28,129.3 L447.63,129.2 L448.98,129.1 L450.33,128.98 L451.68,128.86 L453.03,128.72 L454.37,128.58 L455.72,128.42 L457.06,128.26 L458.4,128.08 L459.74,127.89 L461.08,127.69 L462.41,127.47 L463.74,127.25 L465.06,127.01 L466.38,126.76 L467.69,126.5 L469,126.22 L470.3,125.93 L471.6,125.63 L472.89,125.31 L474.17,124.98 L475.44,124.64 L476.7,124.28 L477.95,123.91 L479.19,123.53 L480.43,123.13 L481.64,122.71 L482.85,122.29 L484.04,121.84 L485.22,121.39 L486.39,120.92 L487.54,120.43 L488.67,119.93 L489.79,119.42 L490.89,118.9 L491.97,118.36 L493.03,117.81 L494.08,117.24 L495.1,116.66 L496.11,116.07 L497.09,115.47 L498.06,114.86 L499,114.23 L499.92,113.59 L500.82,112.94 L501.69,112.29 L502.55,111.62 L503.38,110.94 L504.19,110.25 L504.97,109.55 L505.73,108.84 L506.47,108.13 L507.18,107.41 L507.87,106.67 L508.54,105.94 L509.18,105.19 L509.8,104.44 L510.4,103.69 L510.97,102.92 L511.52,102.16 L512.05,101.38 L512.56,100.61 L513.04,99.83 L513.5,99.04 L513.94,98.26 L514.36,97.47 L514.75,96.67 L515.13,95.88 L515.48,95.08 L515.82,94.28 L516.14,93.48 L516.43,92.67 L516.71,91.87 L516.97,91.06 L517.21,90.25 L517.44,89.45 L517.65,88.64 L517.84,87.83 L518.01,87.02 L518.17,86.21 L518.31,85.4 L518.44,84.59 L518.55,83.78 L518.64,82.97 L518.72,82.16 L518.79,81.34 L518.84,80.53 L518.87,79.72 L518.9,78.91 L518.9,78.1 Z" fill="none" stroke="#000" stroke-width="1.1" stroke-dasharray="4.5 3"/><path d="M432.75,132.33 L432.41,132.47 L432.07,132.58 L431.74,132.67 L431.4,132.73 L431.06,132.76 L430.72,132.76 L430.38,132.74 L430.04,132.69 L429.71,132.61 L429.37,132.5 L429.03,132.36 L428.69,132.2 L428.35,132.02 L428.01,131.82 L427.68,131.59 L427.34,131.35 L427,131.09 L426.66,130.82 L426.32,130.53 L425.98,130.24 L425.65,129.94 L425.31,129.64 L424.97,129.34 L424.63,129.03 L424.29,128.74 L423.95,128.45 L423.62,128.17 L423.28,127.9 L422.94,127.64 L422.6,127.41 L422.26,127.19 L421.93,126.99 L421.59,126.81 L421.25,126.66 L420.91,126.53 L420.57,126.43 L420.24,126.35 L419.9,126.31 L419.56,126.28 L419.22,126.29 L418.88,126.32 L418.55,126.38 L418.21,126.47 L417.87,126.58 L417.53,126.71 L417.19,126.87 L416.86,127.05 L416.52,127.24 L416.18,127.45 L415.84,127.68 L415.51,127.92 L415.17,128.16 L414.83,128.42 L414.49,128.68 L414.16,128.94 L413.82,129.19 L413.48,129.45 L413.15,129.7 L412.81,129.94 L412.47,130.17 L412.14,130.38 L411.8,130.58 L411.46,130.76 L411.13,130.92 L410.79,131.06 L410.45,131.17 L410.12,131.26 L409.78,131.32 L409.44,131.35 L409.11,131.36 L408.77,131.34 L408.44,131.29 L408.1,131.21 L407.77,131.1 L407.43,130.96 L407.1,130.8 L406.76,130.61 L406.43,130.4 L406.09,130.16 L405.76,129.91 L405.43,129.63 L405.09,129.34 L404.76,129.03 L404.42,128.71 L404.09,128.38 L403.76,128.04 L403.42,127.69 L403.09,127.35 L402.76,127 L402.43,126.66 L402.1,126.32 L401.76,125.99 L401.43,125.68 L401.1,125.37 L400.77,125.08 L400.44,124.81 L400.11,124.56 L399.78,124.33 L399.45,124.12 L399.12,123.94 L398.79,123.78 L398.46,123.65 L398.13,123.54 L397.81,123.46 L397.48,123.41 L397.15,123.38 L396.83,123.39 L396.5,123.41 L396.17,123.47 L395.85,123.54 L395.52,123.64 L395.2,123.76 L394.87,123.9 L394.55,124.06 L394.22,124.23 L393.9,124.41 L393.58,124.61 L393.26,124.81 L392.93,125.02 L392.61,125.23 L392.29,125.44 L391.97,125.64 L391.65,125.84 L391.33,126.04 L391.01,126.22 L390.7,126.39 L390.38,126.55 L390.06,126.68 L389.75,126.8 L389.43,126.9 L389.11,126.97 L388.8,127.02 L388.49,127.04 L388.17,127.04 L387.86,127 L387.55,126.94 L387.24,126.85 L386.92,126.73 L386.61,126.59 L386.31,126.41 L386,126.21 L385.69,125.98 L385.38,125.73 L385.07,125.45 L384.77,125.15 L384.46,124.83 L384.16,124.49 L383.86,124.14 L383.55,123.77 L383.25,123.39 L382.95,123 L382.65,122.6 L382.35,122.2 L382.05,121.8 L381.75,121.4 L381.46,121.01 L381.16,120.62 L380.87,120.24 L380.57,119.88 L380.28,119.52 L379.99,119.19 L379.69,118.87 L379.4,118.57 L379.11,118.29 L378.82,118.04 L378.54,117.81 L378.25,117.61 L377.96,117.43 L377.68,117.28 L377.4,117.15 L377.11,117.05 L376.83,116.98 L376.55,116.94 L376.27,116.92 L375.99,116.92 L375.71,116.95 L375.44,117 L375.16,117.07 L374.89,117.15 L374.61,117.26 L374.34,117.38 L374.07,117.51 L373.8,117.64 L373.53,117.79 L373.26,117.94 L373,118.09 L372.73,118.24 L372.47,118.39 L372.21,118.53 L371.94,118.66 L371.68,118.79 L371.42,118.89 L371.17,118.99 L370.91,119.06 L370.65,119.11 L370.4,119.15 L370.15,119.15 L369.89,119.14 L369.64,119.1 L369.39,119.03 L369.15,118.93 L368.9,118.81 L368.65,118.66 L368.41,118.48 L368.17,118.27 L367.92,118.03 L367.68,117.77 L367.44,117.48 L367.21,117.17 L366.97,116.83 L366.74,116.47 L366.5,116.1 L366.27,115.7 L366.04,115.29 L365.81,114.87 L365.58,114.44 L365.35,114 L365.13,113.55 L364.9,113.1 L364.68,112.65 L364.46,112.2 L364.24,111.75 L364.02,111.31 L363.81,110.89 L363.59,110.47 L363.38,110.07 L363.16,109.68 L362.95,109.32 L362.74,108.97 L362.53,108.65 L362.33,108.34 L362.12,108.07 L361.92,107.81 L361.71,107.59 L361.51,107.39 L361.31,107.21 L361.11,107.07 L360.92,106.95 L360.72,106.85 L360.53,106.78 L360.34,106.74 L360.14,106.72 L359.96,106.72 L359.77,106.74 L359.58,106.77 L359.4,106.83 L359.21,106.9 L359.03,106.98 L358.85,107.07 L358.67,107.17 L358.49,107.27 L358.32,107.38 L358.14,107.48 L357.97,107.58 L357.8,107.68 L357.63,107.77 L357.46,107.85 L357.29,107.91 L357.12,107.97 L356.96,108 L356.8,108.02 L356.63,108.01 L356.47,107.98 L356.32,107.93 L356.16,107.86 L356,107.76 L355.85,107.63 L355.7,107.47 L355.55,107.29 L355.4,107.08 L355.25,106.84 L355.1,106.58 L354.95,106.29 L354.81,105.98 L354.67,105.64 L354.53,105.28 L354.39,104.89 L354.25,104.49 L354.11,104.07 L353.98,103.64 L353.84,103.19 L353.71,102.73 L353.58,102.26 L353.45,101.79 L353.32,101.31 L353.19,100.83 L353.07,100.35 L352.94,99.88 L352.82,99.41 L352.7,98.95 L352.58,98.5 L352.46,98.06 L352.34,97.64 L352.23,97.24 L352.11,96.86 L352,96.5 L351.89,96.16 L351.78,95.84 L351.67,95.55 L351.56,95.28 L351.46,95.04 L351.35,94.82 L351.25,94.64 L351.14,94.47 L351.04,94.34 L350.94,94.23 L350.85,94.14 L350.75,94.08 L350.65,94.04 L350.56,94.02 L350.46,94.03 L350.37,94.04 L350.28,94.08 L350.19,94.13 L350.1,94.19 L350.02,94.26 L349.93,94.34 L349.85,94.42 L349.76,94.5 L349.68,94.58 L349.6,94.66 L349.52,94.74 L349.44,94.81 L349.36,94.86 L349.29,94.91 L349.21,94.94 L349.14,94.95 L349.07,94.95 L349,94.93 L348.93,94.88 L348.86,94.81 L348.79,94.72 L348.72,94.6 L348.66,94.46 L348.59,94.29 L348.53,94.1 L348.47,93.88 L348.4,93.63 L348.34,93.36 L348.29,93.06 L348.23,92.74 L348.17,92.39 L348.12,92.02 L348.06,91.63 L348.01,91.23 L347.96,90.8 L347.9,90.36 L347.85,89.91 L347.8,89.45 L347.76,88.97 L347.71,88.5 L347.66,88.01 L347.62,87.53 L347.57,87.05 L347.53,86.57 L347.49,86.09 L347.45,85.63 L347.41,85.17 L347.37,84.73 L347.33,84.3 L347.3,83.88 L347.26,83.49 L347.22,83.12 L347.19,82.76 L347.16,82.43 L347.13,82.12 L347.09,81.84 L347.06,81.58 L347.04,81.35 L347.01,81.15 L346.98,80.97 L346.95,80.81 L346.93,80.68 L346.9,80.58 L346.88,80.5 L346.86,80.44 L346.84,80.41 L346.82,80.39 L346.8,80.39 L346.78,80.41 L346.76,80.44 L346.74,80.49 L346.73,80.55 L346.71,80.61 L346.7,80.68 L346.68,80.76 L346.67,80.84 L346.66,80.91 L346.65,80.98 L346.64,81.05 L346.63,81.11 L346.63,81.16 L346.62,81.2 L346.61,81.22 L346.61,81.23 L346.6,81.21 L346.6,81.18 L346.6,81.13 L346.6,81.06 L346.6,80.96 L346.6,79.84 L346.6,79.66 L346.6,79.46 L346.6,79.25 L346.61,79.02 L346.61,78.77 L346.62,78.5 L346.63,78.22 L346.63,77.93 L346.64,77.61 L346.65,77.29 L346.66,76.95 L346.67,76.6 L346.68,76.23 L346.7,75.86 L346.71,75.48 L346.73,75.09 L346.74,74.69 L346.76,74.29 L346.78,73.89 L346.8,73.49 L346.82,73.09 L346.84,72.68 L346.86,72.29 L346.88,71.89 L346.9,71.51 L346.93,71.13 L346.95,70.76 L346.98,70.39 L347.01,70.05 L347.04,69.71 L347.06,69.39 L347.09,69.08 L347.13,68.78 L347.16,68.5 L347.19,68.24 L347.22,68 L347.26,67.77 L347.3,67.56 L347.33,67.36 L347.37,67.18 L347.41,67.02 L347.45,66.87 L347.49,66.74 L347.53,66.62 L347.57,66.52 L347.62,66.42 L347.66,66.34 L347.71,66.27 L347.76,66.21 L347.8,66.16 L347.85,66.12 L347.9,66.07 L347.96,66.04 L348.01,66 L348.06,65.97 L348.12,65.93 L348.17,65.89 L348.23,65.85 L348.29,65.81 L348.34,65.75 L348.4,65.69 L348.47,65.62 L348.53,65.54 L348.59,65.45 L348.66,65.34 L348.72,65.22 L348.79,65.09 L348.86,64.94 L348.93,64.78 L349,64.6 L349.07,64.4 L349.14,64.19 L349.21,63.97 L349.29,63.72 L349.36,63.46 L349.44,63.19 L349.52,62.89 L349.6,62.59 L349.68,62.27 L349.76,61.94 L349.85,61.59 L349.93,61.24 L350.02,60.87 L350.1,60.5 L350.19,60.12 L350.28,59.73 L350.37,59.34 L350.46,58.95 L350.56,58.55 L350.65,58.15 L350.75,57.76 L350.85,57.37 L350.94,56.98 L351.04,56.6 L351.14,56.22 L351.25,55.85 L351.35,55.5 L351.46,55.15 L351.56,54.81 L351.67,54.49 L351.78,54.18 L351.89,53.89 L352,53.61 L352.11,53.34 L352.23,53.09 L352.34,52.86 L352.46,52.64 L352.58,52.44 L352.7,52.26 L352.82,52.09 L352.94,51.94 L353.07,51.81 L353.19,51.68 L353.32,51.58 L353.45,51.48 L353.58,51.4 L353.71,51.33 L353.84,51.27 L353.98,51.22 L354.11,51.17 L354.25,51.14 L354.39,51.1 L354.53,51.07 L354.67,51.05 L354.81,51.02 L354.95,51 L355.1,50.97 L355.25,50.94 L355.4,50.9 L355.55,50.86 L355.7,50.81 L355.85,50.75 L356,50.69 L356.16,50.61 L356.32,50.52 L356.47,50.42 L356.63,50.3 L356.8,50.17 L356.96,50.03 L357.12,49.87 L357.29,49.7 L357.46,49.51 L357.63,49.3 L357.8,49.08 L357.97,48.85 L358.14,48.6 L358.32,48.33 L358.49,48.06 L358.67,47.76 L358.85,47.46 L359.03,47.15 L359.21,46.82 L359.4,46.48 L359.58,46.14 L359.77,45.79 L359.96,45.43 L360.14,45.07 L360.34,44.7 L360.53,44.34 L360.72,43.97 L360.92,43.6 L361.11,43.24 L361.31,42.88 L361.51,42.52 L361.71,42.17 L361.92,41.83 L362.12,41.5 L362.33,41.17 L362.53,40.86 L362.74,40.56 L362.95,40.27 L363.16,40 L363.38,39.74 L363.59,39.49 L363.81,39.27 L364.02,39.05 L364.24,38.86 L364.46,38.67 L364.68,38.51 L364.9,38.36 L365.13,38.23 L365.35,38.11 L365.58,38.01 L365.81,37.93 L366.04,37.86 L366.27,37.8 L366.5,37.75 L366.74,37.71 L366.97,37.69 L367.21,37.67 L367.44,37.67 L367.68,37.66 L367.92,37.67 L368.17,37.68 L368.41,37.69 L368.65,37.7 L368.9,37.72 L369.15,37.73 L369.39,37.74 L369.64,37.75 L369.89,37.75 L370.15,37.74 L370.4,37.73 L370.65,37.71 L370.91,37.68 L371.17,37.64 L371.42,37.59 L371.68,37.52 L371.94,37.45 L372.21,37.36 L372.47,37.25 L372.73,37.13 L373,37 L373.26,36.85 L373.53,36.69 L373.8,36.52 L374.07,36.33 L374.34,36.12 L374.61,35.91 L374.89,35.68 L375.16,35.43 L375.44,35.18 L375.71,34.92 L375.99,34.64 L376.27,34.36 L376.55,34.07 L376.83,33.78 L377.11,33.48 L377.4,33.17 L377.68,32.87 L377.96,32.56 L378.25,32.25 L378.54,31.95 L378.82,31.64 L379.11,31.34 L379.4,31.05 L379.69,30.76 L379.99,30.48 L380.28,30.21 L380.57,29.95 L380.87,29.7 L381.16,29.46 L381.46,29.24 L381.75,29.03 L382.05,28.83 L382.35,28.65 L382.65,28.48 L382.95,28.33 L383.25,28.2 L383.55,28.08 L383.86,27.97 L384.16,27.89 L384.46,27.82 L384.77,27.76 L385.07,27.72 L385.38,27.7 L385.69,27.68 L386,27.69 L386.31,27.7 L386.61,27.72 L386.92,27.76 L387.24,27.8 L387.55,27.86 L387.86,27.92 L388.17,27.99 L388.49,28.06 L388.8,28.13 L389.11,28.21 L389.43,28.29 L389.75,28.36 L390.06,28.44 L390.38,28.51 L390.7,28.58 L391.01,28.64 L391.33,28.7 L391.65,28.74 L391.97,28.78 L392.29,28.81 L392.61,28.83 L392.93,28.84 L393.26,28.84 L393.58,28.82 L393.9,28.79 L394.22,28.75 L394.55,28.69 L394.87,28.62 L395.2,28.54 L395.52,28.44 L395.85,28.32 L396.17,28.2 L396.5,28.06 L396.83,27.91 L397.15,27.74 L397.48,27.56 L397.81,27.38 L398.13,27.18 L398.46,26.97 L398.79,26.76 L399.12,26.54 L399.45,26.31 L399.78,26.08 L400.11,25.85 L400.44,25.61 L400.77,25.37 L401.1,25.13 L401.43,24.9 L401.76,24.66 L402.1,24.43 L402.43,24.21 L402.76,23.99 L403.09,23.78 L403.42,23.58 L403.76,23.39 L404.09,23.2 L404.42,23.04 L404.76,22.88 L405.09,22.73 L405.43,22.6 L405.76,22.49 L406.09,22.39 L406.43,22.3 L406.76,22.23 L407.1,22.18 L407.43,22.14 L407.77,22.11 L408.1,22.11 L408.44,22.11 L408.77,22.13 L409.11,22.17 L409.44,22.22 L409.78,22.28 L410.12,22.35 L410.45,22.44 L410.79,22.53 L411.13,22.64 L411.46,22.75 L411.8,22.87 L412.14,22.99 L412.47,23.12 L412.81,23.26 L413.15,23.39 L413.48,23.53 L413.82,23.67 L414.16,23.8 L414.49,23.93 L414.83,24.06 L415.17,24.18 L415.51,24.3 L415.84,24.41 L416.18,24.51 L416.52,24.6 L416.86,24.68 L417.19,24.75 L417.53,24.81 L417.87,24.86 L418.21,24.89 L418.55,24.91 L418.88,24.92 L419.22,24.91 L419.56,24.89 L419.9,24.85 L420.24,24.8 L420.57,24.74 L420.91,24.66 L421.25,24.57 L421.59,24.47 L421.93,24.36 L422.26,24.23 L422.6,24.1 L422.94,23.95 L423.28,23.8 L423.62,23.64 L423.95,23.47 L424.29,23.29 L424.63,23.12 L424.97,22.93 L425.31,22.75 L425.65,22.57 L425.98,22.38 L426.32,22.2 L426.66,22.02 L427,21.84 L427.34,21.67 L427.68,21.51 L428.01,21.36 L428.35,21.21 L428.69,21.07 L429.03,20.94 L429.37,20.83 L429.71,20.72 L430.04,20.63 L430.38,20.56 L430.72,20.49 L431.06,20.45 L431.4,20.41 L431.74,20.39 L432.07,20.39 L432.41,20.4 L432.75,20.43 L433.09,20.47 L433.43,20.53 L433.76,20.6 L434.1,20.68 L434.44,20.78 L434.78,20.89 L435.12,21.01 L435.46,21.14 L435.79,21.28 L436.13,21.43 L436.47,21.59 L436.81,21.75 L437.15,21.92 L437.49,22.1 L437.82,22.28 L438.16,22.46 L438.5,22.64 L438.84,22.82 L439.18,23 L439.52,23.18 L439.85,23.35 L440.19,23.51 L440.53,23.68 L440.87,23.83 L441.21,23.97 L441.55,24.11 L441.88,24.23 L442.22,24.35 L442.56,24.45 L442.9,24.54 L443.24,24.62 L443.57,24.69 L443.91,24.74 L444.25,24.78 L444.59,24.8 L444.93,24.81 L445.26,24.81 L445.6,24.79 L445.94,24.76 L446.28,24.71 L446.62,24.66 L446.95,24.59 L447.29,24.51 L447.63,24.42 L447.97,24.32 L448.31,24.21 L448.64,24.1 L448.98,23.98 L449.32,23.85 L449.66,23.72 L449.99,23.58 L450.33,23.44 L450.67,23.31 L451.01,23.17 L451.34,23.03 L451.68,22.9 L452.02,22.77 L452.35,22.64 L452.69,22.52 L453.03,22.41 L453.36,22.31 L453.7,22.22 L454.04,22.14 L454.37,22.07 L454.71,22.01 L455.05,21.96 L455.38,21.93 L455.72,21.91 L456.06,21.91 L456.39,21.92 L456.73,21.94 L457.06,21.98 L457.4,22.04 L457.73,22.11 L458.07,22.2 L458.4,22.3 L458.74,22.42 L459.07,22.55 L459.41,22.69 L459.74,22.85 L460.07,23.01 L460.41,23.19 L460.74,23.38 L461.08,23.58 L461.41,23.79 L461.74,24 L462.08,24.22 L462.41,24.44 L462.74,24.67 L463.07,24.9 L463.4,25.14 L463.74,25.37 L464.07,25.6 L464.4,25.83 L464.73,26.06 L465.06,26.28 L465.39,26.49 L465.72,26.7 L466.05,26.9 L466.38,27.09 L466.71,27.27 L467.04,27.45 L467.37,27.61 L467.69,27.76 L468.02,27.89 L468.35,28.02 L468.67,28.13 L469,28.22 L469.33,28.31 L469.65,28.38 L469.98,28.43 L470.3,28.47 L470.63,28.5 L470.95,28.52 L471.28,28.52 L471.6,28.52 L471.92,28.5 L472.24,28.47 L472.57,28.43 L472.89,28.38 L473.21,28.33 L473.53,28.27 L473.85,28.2 L474.17,28.13 L474.49,28.05 L474.8,27.98 L475.12,27.9 L475.44,27.82 L475.75,27.75 L476.07,27.67 L476.39,27.6 L476.7,27.54 L477.01,27.48 L477.33,27.43 L477.64,27.39 L477.95,27.36 L478.26,27.34 L478.58,27.33 L478.89,27.33 L479.19,27.34 L479.5,27.37 L479.81,27.42 L480.12,27.47 L480.43,27.55 L480.73,27.63 L481.04,27.74 L481.34,27.86 L481.64,27.99 L481.95,28.14 L482.25,28.31 L482.55,28.49 L482.85,28.68 L483.15,28.89 L483.45,29.11 L483.75,29.34 L484.04,29.59 L484.34,29.84 L484.63,30.11 L484.93,30.38 L485.22,30.66 L485.51,30.95 L485.81,31.24 L486.1,31.54 L486.39,31.84 L486.68,32.14 L486.96,32.44 L487.25,32.74 L487.54,33.04 L487.82,33.34 L488.1,33.63 L488.39,33.91 L488.67,34.19 L488.95,34.46 L489.23,34.72 L489.51,34.98 L489.79,35.22 L490.06,35.45 L490.34,35.67 L490.61,35.87 L490.89,36.06 L491.16,36.24 L491.43,36.41 L491.7,36.56 L491.97,36.7 L492.24,36.83 L492.5,36.94 L492.77,37.03 L493.03,37.12 L493.29,37.19 L493.56,37.25 L493.82,37.3 L494.08,37.34 L494.33,37.37 L494.59,37.39 L494.85,37.4 L495.1,37.41 L495.35,37.41 L495.61,37.4 L495.86,37.39 L496.11,37.38 L496.35,37.37 L496.6,37.36 L496.85,37.35 L497.09,37.35 L497.33,37.34 L497.58,37.35 L497.82,37.36 L498.06,37.37 L498.29,37.4 L498.53,37.43 L498.76,37.48 L499,37.54 L499.23,37.61 L499.46,37.69 L499.69,37.79 L499.92,37.9 L500.15,38.03 L500.37,38.17 L500.6,38.33 L500.82,38.5 L501.04,38.69 L501.26,38.89 L501.48,39.11 L501.69,39.34 L501.91,39.59 L502.12,39.85 L502.34,40.13 L502.55,40.42 L502.76,40.72 L502.97,41.03 L503.17,41.35 L503.38,41.68 L503.58,42.02 L503.79,42.37 L503.99,42.72 L504.19,43.08 L504.39,43.43 L504.58,43.8 L504.78,44.16 L504.97,44.52 L505.16,44.88 L505.36,45.24 L505.54,45.59 L505.73,45.94 L505.92,46.28 L506.1,46.61 L506.29,46.93 L506.47,47.24 L506.65,47.55 L506.83,47.84 L507.01,48.12 L507.18,48.38 L507.36,48.64 L507.53,48.87 L507.7,49.1 L507.87,49.31 L508.04,49.5 L508.21,49.68 L508.38,49.85 L508.54,50 L508.7,50.14 L508.87,50.27 L509.03,50.38 L509.18,50.48 L509.34,50.57 L509.5,50.65 L509.65,50.71 L509.8,50.77 L509.95,50.83 L510.1,50.87 L510.25,50.91 L510.4,50.95 L510.55,50.98 L510.69,51.01 L510.83,51.04 L510.97,51.07 L511.11,51.11 L511.25,51.14 L511.39,51.19 L511.52,51.23 L511.66,51.29 L511.79,51.35 L511.92,51.43 L512.05,51.51 L512.18,51.6 L512.31,51.71 L512.43,51.83 L512.56,51.97 L512.68,52.11 L512.8,52.28 L512.92,52.45 L513.04,52.65 L513.16,52.85 L513.27,53.08 L513.39,53.32 L513.5,53.57 L513.61,53.84 L513.72,54.13 L513.83,54.42 L513.94,54.73 L514.04,55.06 L514.15,55.39 L514.25,55.74 L514.36,56.09 L514.46,56.46 L514.56,56.83 L514.65,57.21 L514.75,57.59 L514.85,57.98 L514.94,58.37 L515.04,58.76 L515.13,59.15 L515.22,59.54 L515.31,59.92 L515.4,60.31 L515.48,60.68 L515.57,61.05 L515.65,61.42 L515.74,61.77 L515.82,62.11 L515.9,62.45 L515.98,62.77 L516.06,63.08 L516.14,63.37 L516.21,63.65 L516.29,63.92 L516.36,64.17 L516.43,64.41 L516.5,64.63 L516.57,64.83 L516.64,65.02 L516.71,65.2 L516.78,65.36 L516.84,65.5 L516.91,65.64 L516.97,65.76 L517.03,65.86 L517.1,65.96 L517.16,66.04 L517.21,66.12 L517.27,66.18 L517.33,66.24 L517.38,66.29 L517.44,66.34 L517.49,66.38 L517.54,66.42 L517.6,66.47 L517.65,66.51 L517.7,66.55 L517.74,66.59 L517.79,66.64 L517.84,66.7 L517.88,66.76 L517.93,66.83 L517.97,66.92 L518.01,67.01 L518.05,67.11 L518.09,67.22 L518.13,67.35 L518.17,67.49 L518.2,67.65 L518.24,67.82 L518.28,68.01 L518.31,68.21 L518.34,68.42 L518.37,68.66 L518.41,68.91 L518.44,69.17 L518.46,69.45 L518.49,69.74 L518.52,70.05 L518.55,70.37 L518.57,70.71 L518.6,71.05 L518.62,71.41 L518.64,71.77 L518.66,72.15 L518.68,72.53 L518.7,72.91 L518.72,73.31 L518.74,73.7 L518.76,74.1 L518.77,74.5 L518.79,74.89 L518.8,75.29 L518.82,75.68 L518.83,76.07 L518.84,76.44 L518.85,76.82 L518.86,77.18 L518.87,77.53 L518.87,77.88 L518.88,78.21 L518.89,78.52 L518.89,78.83 L518.9,79.12 L518.9,79.39 L518.9,79.65 L518.9,79.9 L518.9,80.12 L518.9,81.33 L518.9,81.5 L518.9,81.64 L518.9,81.77 L518.89,81.87 L518.89,81.94 L518.88,82 L518.87,82.04 L518.87,82.06 L518.86,82.06 L518.85,82.04 L518.84,82.02 L518.83,81.98 L518.82,81.93 L518.8,81.87 L518.79,81.81 L518.77,81.74 L518.76,81.67 L518.74,81.61 L518.72,81.54 L518.7,81.48 L518.68,81.43 L518.66,81.38 L518.64,81.35 L518.62,81.33 L518.6,81.32 L518.57,81.34 L518.55,81.36 L518.52,81.41 L518.49,81.48 L518.46,81.57 L518.44,81.68 L518.41,81.82 L518.37,81.98 L518.34,82.16 L518.31,82.37 L518.28,82.6 L518.24,82.86 L518.2,83.14 L518.17,83.44 L518.13,83.76 L518.09,84.11 L518.05,84.48 L518.01,84.86 L517.97,85.27 L517.93,85.69 L517.88,86.12 L517.84,86.56 L517.79,87.02 L517.74,87.48 L517.7,87.95 L517.65,88.43 L517.6,88.9 L517.54,89.38 L517.49,89.85 L517.44,90.32 L517.38,90.78 L517.33,91.23 L517.27,91.67 L517.21,92.09 L517.16,92.51 L517.1,92.9 L517.03,93.28 L516.97,93.64 L516.91,93.97 L516.84,94.29 L516.78,94.58 L516.71,94.85 L516.64,95.09 L516.57,95.31 L516.5,95.5 L516.43,95.67 L516.36,95.81 L516.29,95.93 L516.21,96.03 L516.14,96.1 L516.06,96.15 L515.98,96.19 L515.9,96.2 L515.82,96.19 L515.74,96.17 L515.65,96.14 L515.57,96.09 L515.48,96.03 L515.4,95.97 L515.31,95.9 L515.22,95.82 L515.13,95.75 L515.04,95.67 L514.94,95.6 L514.85,95.53 L514.75,95.47 L514.65,95.42 L514.56,95.38 L514.46,95.36 L514.36,95.35 L514.25,95.36 L514.15,95.39 L514.04,95.43 L513.94,95.5 L513.83,95.6 L513.72,95.71 L513.61,95.85 L513.5,96.01 L513.39,96.2 L513.27,96.42 L513.16,96.66 L513.04,96.92 L512.92,97.21 L512.8,97.52 L512.68,97.85 L512.56,98.2 L512.43,98.58 L512.31,98.97 L512.18,99.38 L512.05,99.8 L511.92,100.24 L511.79,100.69 L511.66,101.14 L511.52,101.61 L511.39,102.08 L511.25,102.55 L511.11,103.01 L510.97,103.48 L510.83,103.94 L510.69,104.4 L510.55,104.84 L510.4,105.28 L510.25,105.7 L510.1,106.1 L509.95,106.49 L509.8,106.86 L509.65,107.2 L509.5,107.53 L509.34,107.83 L509.18,108.11 L509.03,108.36 L508.87,108.59 L508.7,108.79 L508.54,108.96 L508.38,109.11 L508.21,109.24 L508.04,109.34 L507.87,109.41 L507.7,109.46 L507.53,109.49 L507.36,109.49 L507.18,109.48 L507.01,109.45 L506.83,109.4 L506.65,109.34 L506.47,109.27 L506.29,109.18 L506.1,109.09 L505.92,108.99 L505.73,108.89 L505.54,108.79 L505.36,108.68 L505.16,108.59 L504.97,108.5 L504.78,108.41 L504.58,108.34 L504.39,108.28 L504.19,108.24 L503.99,108.21 L503.79,108.2 L503.58,108.21 L503.38,108.24 L503.17,108.29 L502.97,108.37 L502.76,108.47 L502.55,108.6 L502.34,108.75 L502.12,108.92 L501.91,109.13 L501.69,109.35 L501.48,109.61 L501.26,109.88 L501.04,110.18 L500.82,110.5 L500.6,110.84 L500.37,111.2 L500.15,111.58 L499.92,111.97 L499.69,112.37 L499.46,112.79 L499.23,113.22 L499,113.65 L498.76,114.09 L498.53,114.52 L498.29,114.96 L498.06,115.4 L497.82,115.83 L497.58,116.25 L497.33,116.66 L497.09,117.06 L496.85,117.45 L496.6,117.82 L496.35,118.17 L496.11,118.5 L495.86,118.81 L495.61,119.09 L495.35,119.35 L495.1,119.59 L494.85,119.8 L494.59,119.98 L494.33,120.14 L494.08,120.26 L493.82,120.37 L493.56,120.44 L493.29,120.49 L493.03,120.51 L492.77,120.51 L492.5,120.49 L492.24,120.44 L491.97,120.37 L491.7,120.29 L491.43,120.18 L491.16,120.07 L490.89,119.94 L490.61,119.8 L490.34,119.66 L490.06,119.5 L489.79,119.35 L489.51,119.2 L489.23,119.04 L488.95,118.9 L488.67,118.76 L488.39,118.62 L488.1,118.51 L487.82,118.4 L487.54,118.31 L487.25,118.24 L486.96,118.19 L486.68,118.15 L486.39,118.15 L486.1,118.16 L485.81,118.2 L485.51,118.26 L485.22,118.35 L484.93,118.47 L484.63,118.61 L484.34,118.78 L484.04,118.97 L483.75,119.19 L483.45,119.43 L483.15,119.69 L482.85,119.97 L482.55,120.28 L482.25,120.6 L481.95,120.93 L481.64,121.29 L481.34,121.65 L481.04,122.02 L480.73,122.4 L480.43,122.79 L480.12,123.17 L479.81,123.56 L479.5,123.94 L479.19,124.32 L478.89,124.69 L478.58,125.05 L478.26,125.4 L477.95,125.73 L477.64,126.04 L477.33,126.34 L477.01,126.62 L476.7,126.87 L476.39,127.1 L476.07,127.3 L475.75,127.48 L475.44,127.63 L475.12,127.76 L474.8,127.85 L474.49,127.92 L474.17,127.96 L473.85,127.97 L473.53,127.96 L473.21,127.92 L472.89,127.85 L472.57,127.76 L472.24,127.65 L471.92,127.52 L471.6,127.37 L471.28,127.21 L470.95,127.03 L470.63,126.83 L470.3,126.63 L469.98,126.42 L469.65,126.21 L469.33,125.99 L469,125.78 L468.67,125.57 L468.35,125.36 L468.02,125.16 L467.69,124.97 L467.37,124.8 L467.04,124.64 L466.71,124.5 L466.38,124.37 L466.05,124.27 L465.72,124.19 L465.39,124.13 L465.06,124.1 L464.73,124.09 L464.4,124.11 L464.07,124.15 L463.74,124.22 L463.4,124.32 L463.07,124.45 L462.74,124.6 L462.41,124.77 L462.08,124.97 L461.74,125.19 L461.41,125.43 L461.08,125.69 L460.74,125.97 L460.41,126.26 L460.07,126.57 L459.74,126.88 L459.41,127.21 L459.07,127.54 L458.74,127.88 L458.4,128.21 L458.07,128.54 L457.73,128.87 L457.4,129.2 L457.06,129.51 L456.73,129.81 L456.39,130.09 L456.06,130.36 L455.72,130.61 L455.38,130.84 L455.05,131.05 L454.71,131.24 L454.37,131.4 L454.04,131.53 L453.7,131.63 L453.36,131.71 L453.03,131.76 L452.69,131.78 L452.35,131.78 L452.02,131.74 L451.68,131.68 L451.34,131.59 L451.01,131.48 L450.67,131.34 L450.33,131.19 L449.99,131.01 L449.66,130.81 L449.32,130.59 L448.98,130.36 L448.64,130.12 L448.31,129.87 L447.97,129.61 L447.63,129.35 L447.29,129.08 L446.95,128.82 L446.62,128.55 L446.28,128.3 L445.94,128.05 L445.6,127.82 L445.26,127.59 L444.93,127.39 L444.59,127.2 L444.25,127.03 L443.91,126.88 L443.57,126.75 L443.24,126.65 L442.9,126.57 L442.56,126.52 L442.22,126.5 L441.88,126.5 L441.55,126.53 L441.21,126.59 L440.87,126.67 L440.53,126.78 L440.19,126.92 L439.85,127.08 L439.52,127.26 L439.18,127.46 L438.84,127.69 L438.5,127.93 L438.16,128.18 L437.82,128.45 L437.49,128.73 L437.15,129.02 L436.81,129.31 L436.47,129.6 L436.13,129.9 L435.79,130.2 L435.46,130.48 L435.12,130.77 L434.78,131.04 L434.44,131.3 L434.1,131.54 L433.76,131.77 L433.43,131.98 L433.09,132.16 L432.75,132.33" fill="none" stroke="#000" stroke-width="1.3" stroke-linejoin="round"/><rect x="323.0" y="10.6" width="219.5" height="135" fill="none" stroke="#2e2e2e" stroke-width="1.25"/><path d="M323,145.6 v3 M336.72,145.6 v1.6 M350.44,145.6 v3 M364.16,145.6 v1.6 M377.88,145.6 v3 M391.59,145.6 v1.6 M405.31,145.6 v3 M419.03,145.6 v1.6 M432.75,145.6 v3 M446.47,145.6 v1.6 M460.19,145.6 v3 M473.91,145.6 v1.6 M487.62,145.6 v3 M501.34,145.6 v1.6 M515.06,145.6 v3 M528.78,145.6 v1.6 M542.5,145.6 v3 M323,145.6 h-3 M323,128.72 h-1.6 M323,111.85 h-3 M323,94.97 h-1.6 M323,78.1 h-3 M323,61.23 h-1.6 M323,44.35 h-3 M323,27.48 h-1.6 M323,10.6 h-3" stroke="#2e2e2e" stroke-width="1.1" fill="none"/><text x="320.6" y="159.7" text-anchor="middle" font-size="11.5">−<tspan dx="0.9">8</tspan></text><text x="348.04" y="159.7" text-anchor="middle" font-size="11.5">−<tspan dx="0.9">6</tspan></text><text x="375.48" y="159.7" text-anchor="middle" font-size="11.5">−<tspan dx="0.9">4</tspan></text><text x="402.91" y="159.7" text-anchor="middle" font-size="11.5">−<tspan dx="0.9">2</tspan></text><text x="432.75" y="159.7" text-anchor="middle" font-size="11.5">0</text><text x="460.19" y="159.7" text-anchor="middle" font-size="11.5">2</text><text x="487.62" y="159.7" text-anchor="middle" font-size="11.5">4</text><text x="515.06" y="159.7" text-anchor="middle" font-size="11.5">6</text><text x="542.5" y="159.7" text-anchor="middle" font-size="11.5">8</text><text x="318.5" y="14.2" text-anchor="end" font-size="11.5">1.0</text><text x="318.5" y="47.95" text-anchor="end" font-size="11.5">0.5</text><text x="318.5" y="81.7" text-anchor="end" font-size="11.5">0.0</text><text x="318.5" y="115.45" text-anchor="end" font-size="11.5">−<tspan dx="0.8">0.5</tspan></text><text x="318.5" y="149.2" text-anchor="end" font-size="11.5">−<tspan dx="0.8">1.0</tspan></text><text x="432.75" y="171.9" text-anchor="middle" font-size="12.25">Angular velocity×10 (deg/s)</text><text transform="translate(295.8,86.6) rotate(-90)" text-anchor="middle" font-size="12.25">Angular acceleration×10<tspan font-size="8" dy="-5.5">3</tspan><tspan dy="5.5"> (deg/s</tspan><tspan font-size="8" dy="-5.5">2</tspan><tspan dy="5.5">)</tspan></text><text x="413.5" y="193.1" text-anchor="middle" font-size="14.5" style="stroke-width:0.05px">(<tspan font-weight="bold" font-size="14.5" style="stroke-width:0.2px">b</tspan>)</text><path d="M379.9,95.4 h21.5" stroke="#000" stroke-width="1.2" stroke-dasharray="4.8 3.2"/><path d="M379.9,108.8 h24.5" stroke="#000" stroke-width="1.2"/><text x="407.9" y="98.8" font-size="11">Ideal</text><text x="407.9" y="112.2" font-size="11">One flexible body</text></g><g><path d="M238.06,276 L238.05,275.12 L238.03,274.24 L237.99,273.36 L237.94,272.49 L237.88,271.61 L237.8,270.73 L237.7,269.85 L237.59,268.97 L237.46,268.09 L237.32,267.22 L237.17,266.34 L236.99,265.46 L236.8,264.59 L236.6,263.71 L236.37,262.83 L236.13,261.96 L235.87,261.09 L235.59,260.22 L235.3,259.35 L234.98,258.48 L234.65,257.61 L234.29,256.74 L233.92,255.88 L233.52,255.02 L233.1,254.17 L232.66,253.31 L232.21,252.46 L231.72,251.62 L231.22,250.78 L230.69,249.94 L230.14,249.11 L229.57,248.28 L228.98,247.47 L228.36,246.65 L227.72,245.85 L227.05,245.05 L226.36,244.26 L225.65,243.47 L224.92,242.7 L224.16,241.93 L223.37,241.18 L222.57,240.43 L221.74,239.69 L220.89,238.97 L220.01,238.26 L219.12,237.55 L218.2,236.86 L217.26,236.18 L216.3,235.52 L215.31,234.87 L214.31,234.23 L213.29,233.6 L212.24,232.99 L211.18,232.39 L210.1,231.81 L209.01,231.24 L207.89,230.68 L206.76,230.14 L205.61,229.62 L204.45,229.11 L203.28,228.62 L202.09,228.14 L200.88,227.67 L199.67,227.23 L198.44,226.79 L197.2,226.38 L195.95,225.97 L194.69,225.59 L193.42,225.21 L192.15,224.86 L190.86,224.51 L189.57,224.19 L188.27,223.87 L186.96,223.57 L185.65,223.29 L184.34,223.02 L183.02,222.76 L181.69,222.52 L180.36,222.29 L179.03,222.07 L177.69,221.86 L176.36,221.67 L175.02,221.49 L173.68,221.32 L172.33,221.16 L170.99,221.02 L169.64,220.88 L168.29,220.76 L166.95,220.65 L165.6,220.54 L164.25,220.45 L162.9,220.37 L161.55,220.3 L160.2,220.24 L158.85,220.18 L157.5,220.14 L156.15,220.11 L154.8,220.08 L153.45,220.07 L152.1,220.06 L150.75,220.07 L149.4,220.08 L148.05,220.11 L146.7,220.14 L145.35,220.18 L144,220.24 L142.65,220.3 L141.3,220.37 L139.95,220.45 L138.6,220.54 L137.25,220.65 L135.91,220.76 L134.56,220.88 L133.21,221.02 L131.87,221.16 L130.52,221.32 L129.18,221.49 L127.84,221.67 L126.51,221.86 L125.17,222.07 L123.84,222.29 L122.51,222.52 L121.18,222.76 L119.86,223.02 L118.55,223.29 L117.24,223.57 L115.93,223.87 L114.63,224.19 L113.34,224.51 L112.05,224.86 L110.78,225.21 L109.51,225.59 L108.25,225.97 L107,226.38 L105.76,226.79 L104.53,227.23 L103.32,227.67 L102.11,228.14 L100.92,228.62 L99.75,229.11 L98.59,229.62 L97.44,230.14 L96.31,230.68 L95.19,231.24 L94.1,231.81 L93.02,232.39 L91.96,232.99 L90.91,233.6 L89.89,234.23 L88.89,234.87 L87.9,235.52 L86.94,236.18 L86,236.86 L85.08,237.55 L84.19,238.26 L83.31,238.97 L82.46,239.69 L81.63,240.43 L80.83,241.18 L80.04,241.93 L79.28,242.7 L78.55,243.47 L77.84,244.26 L77.15,245.05 L76.48,245.85 L75.84,246.65 L75.22,247.47 L74.63,248.28 L74.06,249.11 L73.51,249.94 L72.98,250.78 L72.48,251.62 L71.99,252.46 L71.54,253.31 L71.1,254.17 L70.68,255.02 L70.28,255.88 L69.91,256.74 L69.55,257.61 L69.22,258.48 L68.9,259.35 L68.61,260.22 L68.33,261.09 L68.07,261.96 L67.83,262.83 L67.6,263.71 L67.4,264.59 L67.21,265.46 L67.03,266.34 L66.88,267.22 L66.74,268.09 L66.61,268.97 L66.5,269.85 L66.4,270.73 L66.32,271.61 L66.26,272.49 L66.21,273.36 L66.17,274.24 L66.15,275.12 L66.14,276 L66.15,276.81 L66.17,277.63 L66.21,278.44 L66.26,279.26 L66.32,280.07 L66.4,280.89 L66.5,281.7 L66.61,282.52 L66.74,283.33 L66.88,284.14 L67.03,284.96 L67.21,285.77 L67.4,286.58 L67.6,287.4 L67.83,288.21 L68.07,289.02 L68.33,289.83 L68.61,290.64 L68.9,291.44 L69.22,292.25 L69.55,293.05 L69.91,293.85 L70.28,294.65 L70.68,295.45 L71.1,296.25 L71.54,297.04 L71.99,297.82 L72.48,298.61 L72.98,299.39 L73.51,300.16 L74.06,300.93 L74.63,301.7 L75.22,302.46 L75.84,303.21 L76.48,303.96 L77.15,304.7 L77.84,305.44 L78.55,306.16 L79.28,306.88 L80.04,307.59 L80.83,308.29 L81.63,308.98 L82.46,309.66 L83.31,310.34 L84.19,311 L85.08,311.65 L86,312.29 L86.94,312.92 L87.9,313.54 L88.89,314.14 L89.89,314.74 L90.91,315.32 L91.96,315.88 L93.02,316.44 L94.1,316.98 L95.19,317.51 L96.31,318.02 L97.44,318.52 L98.59,319.01 L99.75,319.48 L100.92,319.94 L102.11,320.38 L103.32,320.81 L104.53,321.23 L105.76,321.63 L107,322.02 L108.25,322.39 L109.51,322.75 L110.78,323.09 L112.05,323.42 L113.34,323.74 L114.63,324.05 L115.93,324.34 L117.24,324.61 L118.55,324.88 L119.86,325.13 L121.18,325.37 L122.51,325.59 L123.84,325.81 L125.17,326.01 L126.51,326.2 L127.84,326.38 L129.18,326.55 L130.52,326.7 L131.87,326.85 L133.21,326.98 L134.56,327.11 L135.91,327.22 L137.25,327.33 L138.6,327.42 L139.95,327.51 L141.3,327.59 L142.65,327.65 L144,327.71 L145.35,327.76 L146.7,327.8 L148.05,327.83 L149.4,327.85 L150.75,327.86 L152.1,327.87 L153.45,327.86 L154.8,327.85 L156.15,327.83 L157.5,327.8 L158.85,327.76 L160.2,327.71 L161.55,327.65 L162.9,327.59 L164.25,327.51 L165.6,327.42 L166.95,327.33 L168.29,327.22 L169.64,327.11 L170.99,326.98 L172.33,326.85 L173.68,326.7 L175.02,326.55 L176.36,326.38 L177.69,326.2 L179.03,326.01 L180.36,325.81 L181.69,325.59 L183.02,325.37 L184.34,325.13 L185.65,324.88 L186.96,324.61 L188.27,324.34 L189.57,324.05 L190.86,323.74 L192.15,323.42 L193.42,323.09 L194.69,322.75 L195.95,322.39 L197.2,322.02 L198.44,321.63 L199.67,321.23 L200.88,320.81 L202.09,320.38 L203.28,319.94 L204.45,319.48 L205.61,319.01 L206.76,318.52 L207.89,318.02 L209.01,317.51 L210.1,316.98 L211.18,316.44 L212.24,315.88 L213.29,315.32 L214.31,314.74 L215.31,314.14 L216.3,313.54 L217.26,312.92 L218.2,312.29 L219.12,311.65 L220.01,311 L220.89,310.34 L221.74,309.66 L222.57,308.98 L223.37,308.29 L224.16,307.59 L224.92,306.88 L225.65,306.16 L226.36,305.44 L227.05,304.7 L227.72,303.96 L228.36,303.21 L228.98,302.46 L229.57,301.7 L230.14,300.93 L230.69,300.16 L231.22,299.39 L231.72,298.61 L232.21,297.82 L232.66,297.04 L233.1,296.25 L233.52,295.45 L233.92,294.65 L234.29,293.85 L234.65,293.05 L234.98,292.25 L235.3,291.44 L235.59,290.64 L235.87,289.83 L236.13,289.02 L236.37,288.21 L236.6,287.4 L236.8,286.58 L236.99,285.77 L237.17,284.96 L237.32,284.14 L237.46,283.33 L237.59,282.52 L237.7,281.7 L237.8,280.89 L237.88,280.07 L237.94,279.26 L237.99,278.44 L238.03,277.63 L238.05,276.81 L238.06,276 Z" fill="none" stroke="#000" stroke-width="1.1" stroke-dasharray="4.5 3"/><path d="M152.1,329.45 L151.76,329.48 L151.42,329.49 L151.09,329.49 L150.75,329.48 L150.41,329.45 L150.07,329.41 L149.74,329.36 L149.4,329.3 L149.06,329.23 L148.72,329.14 L148.39,329.05 L148.05,328.94 L147.71,328.83 L147.37,328.71 L147.04,328.58 L146.7,328.45 L146.36,328.32 L146.02,328.18 L145.69,328.04 L145.35,327.9 L145.01,327.76 L144.67,327.62 L144.34,327.48 L144,327.35 L143.66,327.23 L143.32,327.11 L142.99,327 L142.65,326.89 L142.31,326.8 L141.97,326.71 L141.64,326.64 L141.3,326.57 L140.96,326.52 L140.63,326.48 L140.29,326.45 L139.95,326.43 L139.61,326.42 L139.28,326.43 L138.94,326.44 L138.6,326.47 L138.26,326.51 L137.93,326.56 L137.59,326.62 L137.25,326.68 L136.92,326.76 L136.58,326.84 L136.24,326.93 L135.91,327.02 L135.57,327.12 L135.23,327.22 L134.9,327.32 L134.56,327.42 L134.22,327.52 L133.89,327.61 L133.55,327.71 L133.21,327.8 L132.88,327.88 L132.54,327.96 L132.2,328.03 L131.87,328.09 L131.53,328.14 L131.2,328.18 L130.86,328.21 L130.52,328.23 L130.19,328.23 L129.85,328.23 L129.52,328.21 L129.18,328.17 L128.85,328.13 L128.51,328.07 L128.18,328 L127.84,327.91 L127.51,327.81 L127.17,327.71 L126.84,327.59 L126.51,327.45 L126.17,327.31 L125.84,327.16 L125.5,327.01 L125.17,326.84 L124.84,326.67 L124.5,326.5 L124.17,326.32 L123.84,326.14 L123.51,325.95 L123.17,325.77 L122.84,325.59 L122.51,325.41 L122.18,325.23 L121.85,325.06 L121.52,324.9 L121.18,324.74 L120.85,324.59 L120.52,324.44 L120.19,324.31 L119.86,324.19 L119.53,324.07 L119.21,323.97 L118.88,323.88 L118.55,323.8 L118.22,323.73 L117.89,323.67 L117.56,323.63 L117.24,323.59 L116.91,323.57 L116.58,323.56 L116.26,323.55 L115.93,323.56 L115.61,323.58 L115.28,323.6 L114.96,323.63 L114.63,323.67 L114.31,323.71 L113.98,323.76 L113.66,323.81 L113.34,323.86 L113.02,323.91 L112.7,323.96 L112.37,324.01 L112.05,324.06 L111.73,324.1 L111.41,324.14 L111.1,324.17 L110.78,324.19 L110.46,324.2 L110.14,324.21 L109.83,324.2 L109.51,324.19 L109.19,324.16 L108.88,324.12 L108.56,324.07 L108.25,324 L107.94,323.92 L107.62,323.83 L107.31,323.72 L107,323.61 L106.69,323.47 L106.38,323.33 L106.07,323.17 L105.76,323.01 L105.45,322.83 L105.15,322.64 L104.84,322.44 L104.53,322.23 L104.23,322.02 L103.92,321.79 L103.62,321.57 L103.32,321.34 L103.02,321.1 L102.71,320.86 L102.41,320.63 L102.11,320.39 L101.82,320.15 L101.52,319.92 L101.22,319.69 L100.92,319.47 L100.63,319.25 L100.33,319.04 L100.04,318.83 L99.75,318.64 L99.46,318.45 L99.16,318.28 L98.87,318.11 L98.59,317.96 L98.3,317.81 L98.01,317.68 L97.72,317.56 L97.44,317.45 L97.15,317.35 L96.87,317.27 L96.59,317.19 L96.31,317.13 L96.03,317.07 L95.75,317.02 L95.47,316.99 L95.19,316.96 L94.92,316.93 L94.64,316.91 L94.37,316.9 L94.1,316.89 L93.83,316.88 L93.55,316.87 L93.29,316.87 L93.02,316.86 L92.75,316.85 L92.48,316.84 L92.22,316.82 L91.96,316.8 L91.69,316.77 L91.43,316.73 L91.17,316.68 L90.91,316.63 L90.66,316.56 L90.4,316.49 L90.14,316.4 L89.89,316.3 L89.64,316.18 L89.39,316.06 L89.14,315.92 L88.89,315.77 L88.64,315.6 L88.39,315.42 L88.15,315.23 L87.9,315.03 L87.66,314.82 L87.42,314.59 L87.18,314.35 L86.94,314.11 L86.71,313.85 L86.47,313.59 L86.24,313.32 L86,313.04 L85.77,312.76 L85.54,312.48 L85.31,312.19 L85.08,311.9 L84.86,311.61 L84.63,311.32 L84.41,311.03 L84.19,310.74 L83.97,310.46 L83.75,310.19 L83.53,309.92 L83.31,309.66 L83.1,309.4 L82.88,309.16 L82.67,308.92 L82.46,308.69 L82.25,308.48 L82.04,308.27 L81.84,308.08 L81.63,307.9 L81.43,307.73 L81.23,307.57 L81.02,307.42 L80.83,307.29 L80.63,307.16 L80.43,307.05 L80.24,306.94 L80.04,306.85 L79.85,306.76 L79.66,306.68 L79.47,306.61 L79.28,306.54 L79.1,306.48 L78.91,306.42 L78.73,306.37 L78.55,306.31 L78.37,306.26 L78.19,306.21 L78.01,306.15 L77.84,306.1 L77.66,306.03 L77.49,305.97 L77.32,305.89 L77.15,305.81 L76.98,305.73 L76.81,305.63 L76.65,305.52 L76.48,305.41 L76.32,305.28 L76.16,305.14 L76,304.99 L75.84,304.83 L75.68,304.65 L75.53,304.46 L75.37,304.26 L75.22,304.05 L75.07,303.83 L74.92,303.59 L74.77,303.34 L74.63,303.08 L74.48,302.81 L74.34,302.54 L74.2,302.25 L74.06,301.95 L73.92,301.65 L73.78,301.35 L73.64,301.03 L73.51,300.72 L73.37,300.4 L73.24,300.08 L73.11,299.75 L72.98,299.43 L72.85,299.11 L72.73,298.8 L72.6,298.49 L72.48,298.18 L72.35,297.88 L72.23,297.58 L72.11,297.3 L71.99,297.02 L71.88,296.75 L71.76,296.49 L71.65,296.24 L71.54,296 L71.42,295.78 L71.31,295.56 L71.2,295.36 L71.1,295.17 L70.99,294.99 L70.89,294.82 L70.78,294.66 L70.68,294.52 L70.58,294.38 L70.48,294.25 L70.38,294.14 L70.28,294.03 L70.19,293.93 L70.09,293.84 L70,293.75 L69.91,293.66 L69.82,293.59 L69.73,293.51 L69.64,293.43 L69.55,293.36 L69.47,293.29 L69.38,293.21 L69.3,293.13 L69.22,293.05 L69.14,292.96 L69.06,292.87 L68.98,292.77 L68.9,292.66 L68.83,292.55 L68.75,292.42 L68.68,292.29 L68.61,292.14 L68.54,291.99 L68.47,291.82 L68.4,291.64 L68.33,291.45 L68.26,291.25 L68.2,291.04 L68.13,290.81 L68.07,290.58 L68.01,290.33 L67.95,290.07 L67.89,289.8 L67.83,289.52 L67.77,289.23 L67.71,288.94 L67.66,288.63 L67.6,288.32 L67.55,288.01 L67.5,287.69 L67.45,287.36 L67.4,287.03 L67.35,286.71 L67.3,286.38 L67.25,286.05 L67.21,285.72 L67.16,285.4 L67.12,285.08 L67.08,284.76 L67.03,284.45 L66.99,284.15 L66.95,283.85 L66.91,283.57 L66.88,283.29 L66.84,283.02 L66.8,282.76 L66.77,282.52 L66.74,282.28 L66.7,282.05 L66.67,281.84 L66.64,281.64 L66.61,281.45 L66.58,281.27 L66.55,281.1 L66.53,280.94 L66.5,280.8 L66.47,280.66 L66.45,280.53 L66.43,280.42 L66.4,280.31 L66.38,280.2 L66.36,280.11 L66.34,280.01 L66.32,279.93 L66.31,279.85 L66.29,279.76 L66.27,279.69 L66.26,279.61 L66.24,279.53 L66.23,279.45 L66.22,279.36 L66.21,279.27 L66.2,279.18 L66.19,279.08 L66.18,278.98 L66.17,278.87 L66.16,278.75 L66.16,278.62 L66.15,278.48 L66.15,278.33 L66.15,278.17 L66.14,278 L66.14,277.82 L66.14,277.63 L66.14,277.14 L66.14,276.91 L66.15,276.67 L66.15,276.42 L66.15,276.17 L66.16,275.9 L66.16,275.63 L66.17,275.35 L66.18,275.06 L66.19,274.77 L66.2,274.47 L66.21,274.17 L66.22,273.86 L66.23,273.55 L66.24,273.23 L66.26,272.92 L66.27,272.6 L66.29,272.28 L66.31,271.96 L66.32,271.64 L66.34,271.33 L66.36,271.02 L66.38,270.71 L66.4,270.4 L66.43,270.1 L66.45,269.81 L66.47,269.52 L66.5,269.24 L66.53,268.97 L66.55,268.7 L66.58,268.44 L66.61,268.19 L66.64,267.95 L66.67,267.72 L66.7,267.5 L66.74,267.29 L66.77,267.08 L66.8,266.89 L66.84,266.7 L66.88,266.52 L66.91,266.35 L66.95,266.19 L66.99,266.03 L67.03,265.88 L67.08,265.74 L67.12,265.6 L67.16,265.47 L67.21,265.34 L67.25,265.21 L67.3,265.09 L67.35,264.97 L67.4,264.84 L67.45,264.72 L67.5,264.6 L67.55,264.48 L67.6,264.35 L67.66,264.23 L67.71,264.09 L67.77,263.96 L67.83,263.82 L67.89,263.67 L67.95,263.51 L68.01,263.35 L68.07,263.19 L68.13,263.01 L68.2,262.83 L68.26,262.63 L68.33,262.43 L68.4,262.22 L68.47,262.01 L68.54,261.78 L68.61,261.54 L68.68,261.3 L68.75,261.05 L68.83,260.79 L68.9,260.52 L68.98,260.24 L69.06,259.96 L69.14,259.67 L69.22,259.38 L69.3,259.08 L69.38,258.78 L69.47,258.47 L69.55,258.16 L69.64,257.85 L69.73,257.54 L69.82,257.23 L69.91,256.91 L70,256.6 L70.09,256.29 L70.19,255.98 L70.28,255.68 L70.38,255.38 L70.48,255.08 L70.58,254.79 L70.68,254.51 L70.78,254.23 L70.89,253.96 L70.99,253.69 L71.1,253.44 L71.2,253.19 L71.31,252.95 L71.42,252.72 L71.54,252.5 L71.65,252.29 L71.76,252.08 L71.88,251.89 L71.99,251.7 L72.11,251.53 L72.23,251.36 L72.35,251.2 L72.48,251.04 L72.6,250.9 L72.73,250.76 L72.85,250.62 L72.98,250.49 L73.11,250.37 L73.24,250.25 L73.37,250.13 L73.51,250.02 L73.64,249.9 L73.78,249.79 L73.92,249.68 L74.06,249.57 L74.2,249.46 L74.34,249.34 L74.48,249.22 L74.63,249.1 L74.77,248.98 L74.92,248.85 L75.07,248.72 L75.22,248.58 L75.37,248.43 L75.53,248.28 L75.68,248.12 L75.84,247.95 L76,247.77 L76.16,247.59 L76.32,247.4 L76.48,247.2 L76.65,246.99 L76.81,246.78 L76.98,246.56 L77.15,246.33 L77.32,246.09 L77.49,245.84 L77.66,245.59 L77.84,245.33 L78.01,245.07 L78.19,244.8 L78.37,244.53 L78.55,244.25 L78.73,243.97 L78.91,243.68 L79.1,243.4 L79.28,243.11 L79.47,242.82 L79.66,242.53 L79.85,242.25 L80.04,241.96 L80.24,241.68 L80.43,241.4 L80.63,241.13 L80.83,240.86 L81.02,240.59 L81.23,240.33 L81.43,240.08 L81.63,239.83 L81.84,239.59 L82.04,239.36 L82.25,239.14 L82.46,238.93 L82.67,238.72 L82.88,238.52 L83.1,238.34 L83.31,238.16 L83.53,237.99 L83.75,237.83 L83.97,237.68 L84.19,237.53 L84.41,237.4 L84.63,237.27 L84.86,237.15 L85.08,237.04 L85.31,236.94 L85.54,236.84 L85.77,236.75 L86,236.66 L86.24,236.57 L86.47,236.49 L86.71,236.42 L86.94,236.34 L87.18,236.27 L87.42,236.2 L87.66,236.13 L87.9,236.05 L88.15,235.98 L88.39,235.91 L88.64,235.83 L88.89,235.75 L89.14,235.66 L89.39,235.57 L89.64,235.48 L89.89,235.38 L90.14,235.27 L90.4,235.16 L90.66,235.04 L90.91,234.92 L91.17,234.78 L91.43,234.64 L91.69,234.5 L91.96,234.34 L92.22,234.18 L92.48,234.01 L92.75,233.83 L93.02,233.65 L93.29,233.46 L93.55,233.27 L93.83,233.06 L94.1,232.86 L94.37,232.64 L94.64,232.43 L94.92,232.21 L95.19,231.98 L95.47,231.76 L95.75,231.53 L96.03,231.3 L96.31,231.07 L96.59,230.84 L96.87,230.61 L97.15,230.38 L97.44,230.15 L97.72,229.93 L98.01,229.71 L98.3,229.5 L98.59,229.29 L98.87,229.08 L99.16,228.88 L99.46,228.69 L99.75,228.51 L100.04,228.33 L100.33,228.16 L100.63,228 L100.92,227.85 L101.22,227.7 L101.52,227.57 L101.82,227.44 L102.11,227.33 L102.41,227.22 L102.71,227.12 L103.02,227.03 L103.32,226.95 L103.62,226.88 L103.92,226.81 L104.23,226.76 L104.53,226.71 L104.84,226.66 L105.15,226.63 L105.45,226.6 L105.76,226.57 L106.07,226.55 L106.38,226.53 L106.69,226.52 L107,226.51 L107.31,226.5 L107.62,226.49 L107.94,226.49 L108.25,226.48 L108.56,226.47 L108.88,226.46 L109.19,226.45 L109.51,226.44 L109.83,226.42 L110.14,226.4 L110.46,226.37 L110.78,226.34 L111.1,226.3 L111.41,226.26 L111.73,226.21 L112.05,226.16 L112.37,226.1 L112.7,226.03 L113.02,225.95 L113.34,225.87 L113.66,225.78 L113.98,225.68 L114.31,225.58 L114.63,225.47 L114.96,225.35 L115.28,225.23 L115.61,225.1 L115.93,224.96 L116.26,224.82 L116.58,224.68 L116.91,224.53 L117.24,224.38 L117.56,224.22 L117.89,224.06 L118.22,223.9 L118.55,223.74 L118.88,223.58 L119.21,223.42 L119.53,223.26 L119.86,223.1 L120.19,222.95 L120.52,222.79 L120.85,222.64 L121.18,222.5 L121.52,222.36 L121.85,222.22 L122.18,222.09 L122.51,221.97 L122.84,221.85 L123.17,221.74 L123.51,221.64 L123.84,221.55 L124.17,221.46 L124.5,221.38 L124.84,221.31 L125.17,221.25 L125.5,221.2 L125.84,221.16 L126.17,221.13 L126.51,221.1 L126.84,221.08 L127.17,221.08 L127.51,221.07 L127.84,221.08 L128.18,221.09 L128.51,221.11 L128.85,221.14 L129.18,221.17 L129.52,221.21 L129.85,221.25 L130.19,221.29 L130.52,221.34 L130.86,221.39 L131.2,221.45 L131.53,221.5 L131.87,221.55 L132.2,221.61 L132.54,221.66 L132.88,221.71 L133.21,221.76 L133.55,221.81 L133.89,221.85 L134.22,221.89 L134.56,221.93 L134.9,221.96 L135.23,221.98 L135.57,222 L135.91,222.01 L136.24,222.02 L136.58,222.02 L136.92,222.01 L137.25,222 L137.59,221.97 L137.93,221.95 L138.26,221.91 L138.6,221.87 L138.94,221.82 L139.28,221.76 L139.61,221.7 L139.95,221.63 L140.29,221.55 L140.63,221.47 L140.96,221.38 L141.3,221.29 L141.64,221.2 L141.97,221.1 L142.31,221 L142.65,220.9 L142.99,220.79 L143.32,220.68 L143.66,220.58 L144,220.47 L144.34,220.36 L144.67,220.26 L145.01,220.16 L145.35,220.06 L145.69,219.96 L146.02,219.87 L146.36,219.78 L146.7,219.7 L147.04,219.63 L147.37,219.56 L147.71,219.49 L148.05,219.44 L148.39,219.39 L148.72,219.35 L149.06,219.31 L149.4,219.29 L149.74,219.27 L150.07,219.26 L150.41,219.26 L150.75,219.27 L151.09,219.29 L151.42,219.31 L151.76,219.34 L152.1,219.38 L152.44,219.43 L152.78,219.49 L153.11,219.55 L153.45,219.62 L153.79,219.69 L154.13,219.77 L154.46,219.85 L154.8,219.94 L155.14,220.03 L155.48,220.13 L155.81,220.22 L156.15,220.32 L156.49,220.42 L156.83,220.52 L157.16,220.62 L157.5,220.72 L157.84,220.81 L158.18,220.91 L158.51,221 L158.85,221.09 L159.19,221.17 L159.53,221.25 L159.86,221.33 L160.2,221.4 L160.54,221.46 L160.88,221.52 L161.21,221.57 L161.55,221.61 L161.89,221.65 L162.23,221.68 L162.56,221.71 L162.9,221.72 L163.24,221.73 L163.57,221.73 L163.91,221.73 L164.25,221.72 L164.59,221.7 L164.92,221.68 L165.26,221.65 L165.6,221.61 L165.94,221.57 L166.27,221.52 L166.61,221.47 L166.95,221.42 L167.28,221.37 L167.62,221.31 L167.96,221.25 L168.29,221.19 L168.63,221.13 L168.97,221.06 L169.3,221 L169.64,220.95 L169.98,220.89 L170.31,220.84 L170.65,220.78 L170.99,220.74 L171.32,220.7 L171.66,220.66 L172,220.63 L172.33,220.6 L172.67,220.59 L173,220.58 L173.34,220.57 L173.68,220.58 L174.01,220.59 L174.35,220.61 L174.68,220.64 L175.02,220.68 L175.35,220.72 L175.69,220.77 L176.02,220.84 L176.36,220.91 L176.69,220.99 L177.03,221.07 L177.36,221.17 L177.69,221.27 L178.03,221.38 L178.36,221.5 L178.7,221.62 L179.03,221.74 L179.36,221.88 L179.7,222.01 L180.03,222.15 L180.36,222.3 L180.69,222.44 L181.03,222.59 L181.36,222.74 L181.69,222.89 L182.02,223.04 L182.35,223.19 L182.68,223.34 L183.02,223.49 L183.35,223.63 L183.68,223.78 L184.01,223.91 L184.34,224.05 L184.67,224.18 L184.99,224.3 L185.32,224.42 L185.65,224.53 L185.98,224.64 L186.31,224.74 L186.64,224.84 L186.96,224.92 L187.29,225 L187.62,225.08 L187.94,225.14 L188.27,225.2 L188.59,225.26 L188.92,225.3 L189.24,225.34 L189.57,225.38 L189.89,225.41 L190.22,225.43 L190.54,225.45 L190.86,225.46 L191.18,225.47 L191.5,225.48 L191.83,225.48 L192.15,225.48 L192.47,225.48 L192.79,225.48 L193.1,225.48 L193.42,225.48 L193.74,225.48 L194.06,225.48 L194.37,225.49 L194.69,225.49 L195.01,225.5 L195.32,225.52 L195.64,225.54 L195.95,225.56 L196.26,225.59 L196.58,225.63 L196.89,225.67 L197.2,225.72 L197.51,225.78 L197.82,225.85 L198.13,225.92 L198.44,226 L198.75,226.09 L199.05,226.19 L199.36,226.3 L199.67,226.42 L199.97,226.55 L200.28,226.68 L200.58,226.83 L200.88,226.98 L201.18,227.14 L201.49,227.3 L201.79,227.48 L202.09,227.66 L202.38,227.85 L202.68,228.04 L202.98,228.24 L203.28,228.44 L203.57,228.65 L203.87,228.86 L204.16,229.08 L204.45,229.29 L204.74,229.51 L205.04,229.73 L205.33,229.95 L205.61,230.17 L205.9,230.39 L206.19,230.6 L206.48,230.82 L206.76,231.03 L207.05,231.23 L207.33,231.44 L207.61,231.64 L207.89,231.83 L208.17,232.02 L208.45,232.2 L208.73,232.38 L209.01,232.55 L209.28,232.71 L209.56,232.87 L209.83,233.02 L210.1,233.16 L210.37,233.3 L210.65,233.43 L210.91,233.55 L211.18,233.67 L211.45,233.77 L211.72,233.88 L211.98,233.98 L212.24,234.07 L212.51,234.15 L212.77,234.24 L213.03,234.32 L213.29,234.39 L213.54,234.46 L213.8,234.53 L214.06,234.6 L214.31,234.67 L214.56,234.73 L214.81,234.8 L215.06,234.87 L215.31,234.94 L215.56,235.01 L215.81,235.09 L216.05,235.16 L216.3,235.25 L216.54,235.33 L216.78,235.43 L217.02,235.52 L217.26,235.63 L217.49,235.74 L217.73,235.86 L217.96,235.99 L218.2,236.12 L218.43,236.26 L218.66,236.41 L218.89,236.57 L219.12,236.74 L219.34,236.92 L219.57,237.1 L219.79,237.3 L220.01,237.5 L220.23,237.71 L220.45,237.93 L220.67,238.15 L220.89,238.39 L221.1,238.63 L221.32,238.88 L221.53,239.13 L221.74,239.39 L221.95,239.65 L222.16,239.92 L222.36,240.19 L222.57,240.47 L222.77,240.74 L222.97,241.02 L223.18,241.3 L223.37,241.58 L223.57,241.86 L223.77,242.14 L223.96,242.42 L224.16,242.69 L224.35,242.96 L224.54,243.23 L224.73,243.5 L224.92,243.76 L225.1,244.01 L225.29,244.26 L225.47,244.5 L225.65,244.74 L225.83,244.97 L226.01,245.19 L226.19,245.4 L226.36,245.61 L226.54,245.81 L226.71,246 L226.88,246.19 L227.05,246.36 L227.22,246.53 L227.39,246.7 L227.55,246.85 L227.72,247 L227.88,247.15 L228.04,247.28 L228.2,247.42 L228.36,247.54 L228.52,247.67 L228.67,247.79 L228.83,247.9 L228.98,248.02 L229.13,248.13 L229.28,248.24 L229.43,248.36 L229.57,248.47 L229.72,248.58 L229.86,248.7 L230,248.81 L230.14,248.93 L230.28,249.06 L230.42,249.18 L230.56,249.32 L230.69,249.45 L230.83,249.6 L230.96,249.75 L231.09,249.91 L231.22,250.07 L231.35,250.25 L231.47,250.43 L231.6,250.61 L231.72,250.81 L231.85,251.02 L231.97,251.23 L232.09,251.45 L232.21,251.68 L232.32,251.92 L232.44,252.17 L232.55,252.42 L232.66,252.68 L232.78,252.95 L232.89,253.23 L233,253.51 L233.1,253.79 L233.21,254.09 L233.31,254.38 L233.42,254.68 L233.52,254.99 L233.62,255.29 L233.72,255.6 L233.82,255.91 L233.92,256.22 L234.01,256.53 L234.11,256.84 L234.2,257.14 L234.29,257.45 L234.38,257.75 L234.47,258.04 L234.56,258.34 L234.65,258.63 L234.73,258.91 L234.82,259.18 L234.9,259.45 L234.98,259.72 L235.06,259.97 L235.14,260.22 L235.22,260.46 L235.3,260.69 L235.37,260.92 L235.45,261.13 L235.52,261.34 L235.59,261.54 L235.66,261.73 L235.73,261.92 L235.8,262.09 L235.87,262.26 L235.94,262.43 L236,262.58 L236.07,262.73 L236.13,262.88 L236.19,263.02 L236.25,263.15 L236.31,263.28 L236.37,263.41 L236.43,263.54 L236.49,263.67 L236.54,263.79 L236.6,263.91 L236.65,264.04 L236.7,264.16 L236.75,264.29 L236.8,264.42 L236.85,264.55 L236.9,264.69 L236.95,264.83 L236.99,264.98 L237.04,265.14 L237.08,265.3 L237.12,265.46 L237.17,265.64 L237.21,265.82 L237.25,266.01 L237.29,266.2 L237.32,266.41 L237.36,266.62 L237.4,266.84 L237.43,267.08 L237.46,267.31 L237.5,267.56 L237.53,267.82 L237.56,268.08 L237.59,268.35 L237.62,268.63 L237.65,268.91 L237.67,269.2 L237.7,269.49 L237.73,269.8 L237.75,270.1 L237.77,270.41 L237.8,270.72 L237.82,271.03 L237.84,271.35 L237.86,271.66 L237.88,271.98 L237.89,272.29 L237.91,272.6 L237.93,272.92 L237.94,273.22 L237.96,273.53 L237.97,273.83 L237.98,274.12 L237.99,274.41 L238,274.7 L238.01,274.97 L238.02,275.24 L238.03,275.51 L238.04,275.76 L238.04,276.01 L238.05,276.25 L238.05,276.48 L238.05,276.7 L238.06,276.91 L238.06,277.11 L238.06,277.31 L238.06,277.73 L238.06,277.89 L238.05,278.03 L238.05,278.17 L238.05,278.29 L238.04,278.41 L238.04,278.52 L238.03,278.63 L238.02,278.73 L238.01,278.82 L238,278.91 L237.99,279 L237.98,279.08 L237.97,279.17 L237.96,279.25 L237.94,279.33 L237.93,279.42 L237.91,279.5 L237.89,279.6 L237.88,279.69 L237.86,279.79 L237.84,279.9 L237.82,280.01 L237.8,280.13 L237.77,280.26 L237.75,280.4 L237.73,280.54 L237.7,280.7 L237.67,280.87 L237.65,281.05 L237.62,281.23 L237.59,281.43 L237.56,281.64 L237.53,281.86 L237.5,282.09 L237.46,282.33 L237.43,282.59 L237.4,282.85 L237.36,283.12 L237.32,283.4 L237.29,283.69 L237.25,283.98 L237.21,284.28 L237.17,284.59 L237.12,284.91 L237.08,285.22 L237.04,285.54 L236.99,285.87 L236.95,286.19 L236.9,286.52 L236.85,286.84 L236.8,287.16 L236.75,287.49 L236.7,287.8 L236.65,288.12 L236.6,288.42 L236.54,288.72 L236.49,289.02 L236.43,289.3 L236.37,289.58 L236.31,289.85 L236.25,290.11 L236.19,290.36 L236.13,290.6 L236.07,290.83 L236,291.05 L235.94,291.25 L235.87,291.45 L235.8,291.63 L235.73,291.81 L235.66,291.97 L235.59,292.12 L235.52,292.26 L235.45,292.4 L235.37,292.52 L235.3,292.63 L235.22,292.74 L235.14,292.84 L235.06,292.94 L234.98,293.03 L234.9,293.11 L234.82,293.19 L234.73,293.27 L234.65,293.35 L234.56,293.43 L234.47,293.51 L234.38,293.59 L234.29,293.67 L234.2,293.76 L234.11,293.85 L234.01,293.94 L233.92,294.05 L233.82,294.15 L233.72,294.27 L233.62,294.4 L233.52,294.53 L233.42,294.68 L233.31,294.83 L233.21,295 L233.1,295.17 L233,295.36 L232.89,295.56 L232.78,295.77 L232.66,295.99 L232.55,296.22 L232.44,296.46 L232.32,296.71 L232.21,296.97 L232.09,297.24 L231.97,297.52 L231.85,297.81 L231.72,298.1 L231.6,298.4 L231.47,298.7 L231.35,299.01 L231.22,299.33 L231.09,299.64 L230.96,299.96 L230.83,300.28 L230.69,300.59 L230.56,300.91 L230.42,301.22 L230.28,301.53 L230.14,301.84 L230,302.14 L229.86,302.43 L229.72,302.71 L229.57,302.99 L229.43,303.26 L229.28,303.52 L229.13,303.77 L228.98,304 L228.83,304.23 L228.67,304.45 L228.52,304.65 L228.36,304.84 L228.2,305.02 L228.04,305.19 L227.88,305.35 L227.72,305.49 L227.55,305.62 L227.39,305.75 L227.22,305.86 L227.05,305.97 L226.88,306.06 L226.71,306.15 L226.54,306.23 L226.36,306.3 L226.19,306.37 L226.01,306.43 L225.83,306.49 L225.65,306.55 L225.47,306.6 L225.29,306.66 L225.1,306.71 L224.92,306.77 L224.73,306.83 L224.54,306.89 L224.35,306.96 L224.16,307.04 L223.96,307.12 L223.77,307.2 L223.57,307.3 L223.37,307.4 L223.18,307.52 L222.97,307.64 L222.77,307.77 L222.57,307.92 L222.36,308.07 L222.16,308.24 L221.95,308.42 L221.74,308.61 L221.53,308.8 L221.32,309.01 L221.1,309.23 L220.89,309.46 L220.67,309.7 L220.45,309.95 L220.23,310.2 L220.01,310.47 L219.79,310.73 L219.57,311.01 L219.34,311.29 L219.12,311.57 L218.89,311.85 L218.66,312.14 L218.43,312.42 L218.2,312.71 L217.96,312.99 L217.73,313.27 L217.49,313.55 L217.26,313.82 L217.02,314.08 L216.78,314.34 L216.54,314.59 L216.3,314.83 L216.05,315.06 L215.81,315.28 L215.56,315.49 L215.31,315.69 L215.06,315.88 L214.81,316.05 L214.56,316.21 L214.31,316.36 L214.06,316.5 L213.8,316.62 L213.54,316.74 L213.29,316.84 L213.03,316.92 L212.77,317 L212.51,317.07 L212.24,317.13 L211.98,317.17 L211.72,317.21 L211.45,317.24 L211.18,317.27 L210.91,317.29 L210.65,317.3 L210.37,317.31 L210.1,317.32 L209.83,317.32 L209.56,317.33 L209.28,317.34 L209.01,317.35 L208.73,317.36 L208.45,317.37 L208.17,317.39 L207.89,317.42 L207.61,317.45 L207.33,317.49 L207.05,317.54 L206.76,317.6 L206.48,317.67 L206.19,317.75 L205.9,317.83 L205.61,317.93 L205.33,318.04 L205.04,318.16 L204.74,318.3 L204.45,318.44 L204.16,318.59 L203.87,318.76 L203.57,318.93 L203.28,319.11 L202.98,319.3 L202.68,319.5 L202.38,319.71 L202.09,319.93 L201.79,320.15 L201.49,320.37 L201.18,320.6 L200.88,320.83 L200.58,321.06 L200.28,321.29 L199.97,321.52 L199.67,321.75 L199.36,321.98 L199.05,322.2 L198.75,322.41 L198.44,322.62 L198.13,322.83 L197.82,323.02 L197.51,323.21 L197.2,323.38 L196.89,323.55 L196.58,323.7 L196.26,323.84 L195.95,323.97 L195.64,324.09 L195.32,324.19 L195.01,324.29 L194.69,324.36 L194.37,324.43 L194.06,324.48 L193.74,324.52 L193.42,324.55 L193.1,324.57 L192.79,324.57 L192.47,324.57 L192.15,324.56 L191.83,324.53 L191.5,324.51 L191.18,324.47 L190.86,324.43 L190.54,324.38 L190.22,324.33 L189.89,324.28 L189.57,324.22 L189.24,324.17 L188.92,324.12 L188.59,324.07 L188.27,324.02 L187.94,323.98 L187.62,323.94 L187.29,323.91 L186.96,323.89 L186.64,323.87 L186.31,323.87 L185.98,323.87 L185.65,323.88 L185.32,323.91 L184.99,323.94 L184.67,323.99 L184.34,324.04 L184.01,324.11 L183.68,324.19 L183.35,324.28 L183.02,324.39 L182.68,324.5 L182.35,324.62 L182.02,324.75 L181.69,324.89 L181.36,325.04 L181.03,325.2 L180.69,325.36 L180.36,325.53 L180.03,325.7 L179.7,325.88 L179.36,326.05 L179.03,326.23 L178.7,326.41 L178.36,326.59 L178.03,326.76 L177.69,326.93 L177.36,327.09 L177.03,327.25 L176.69,327.41 L176.36,327.55 L176.02,327.68 L175.69,327.81 L175.35,327.93 L175.02,328.03 L174.68,328.12 L174.35,328.2 L174.01,328.27 L173.68,328.33 L173.34,328.37 L173,328.4 L172.67,328.41 L172.33,328.42 L172,328.41 L171.66,328.39 L171.32,328.36 L170.99,328.31 L170.65,328.26 L170.31,328.2 L169.98,328.12 L169.64,328.04 L169.3,327.96 L168.97,327.87 L168.63,327.77 L168.29,327.67 L167.96,327.57 L167.62,327.47 L167.28,327.36 L166.95,327.26 L166.61,327.16 L166.27,327.07 L165.94,326.98 L165.6,326.89 L165.26,326.81 L164.92,326.74 L164.59,326.68 L164.25,326.63 L163.91,326.58 L163.57,326.55 L163.24,326.53 L162.9,326.52 L162.56,326.52 L162.23,326.54 L161.89,326.56 L161.55,326.6 L161.21,326.65 L160.88,326.71 L160.54,326.78 L160.2,326.86 L159.86,326.95 L159.53,327.05 L159.19,327.15 L158.85,327.27 L158.51,327.39 L158.18,327.52 L157.84,327.65 L157.5,327.78 L157.16,327.92 L156.83,328.06 L156.49,328.19 L156.15,328.33 L155.81,328.46 L155.48,328.59 L155.14,328.72 L154.8,328.83 L154.46,328.95 L154.13,329.05 L153.79,329.14 L153.45,329.23 L153.11,329.3 L152.78,329.36 L152.44,329.41 L152.1,329.45" fill="none" stroke="#000" stroke-width="1.5" stroke-linejoin="round"/><rect x="42.6" y="208.2" width="219" height="135.6" fill="none" stroke="#2e2e2e" stroke-width="1.25"/><path d="M42.6,343.8 v3 M56.29,343.8 v1.6 M69.98,343.8 v3 M83.66,343.8 v1.6 M97.35,343.8 v3 M111.04,343.8 v1.6 M124.73,343.8 v3 M138.41,343.8 v1.6 M152.1,343.8 v3 M165.79,343.8 v1.6 M179.48,343.8 v3 M193.16,343.8 v1.6 M206.85,343.8 v3 M220.54,343.8 v1.6 M234.23,343.8 v3 M247.91,343.8 v1.6 M261.6,343.8 v3 M42.6,343.8 h-3 M42.6,326.85 h-1.6 M42.6,309.9 h-3 M42.6,292.95 h-1.6 M42.6,276 h-3 M42.6,259.05 h-1.6 M42.6,242.1 h-3 M42.6,225.15 h-1.6 M42.6,208.2 h-3" stroke="#2e2e2e" stroke-width="1.1" fill="none"/><text x="40.2" y="357.9" text-anchor="middle" font-size="11.5">−<tspan dx="0.9">8</tspan></text><text x="67.58" y="357.9" text-anchor="middle" font-size="11.5">−<tspan dx="0.9">6</tspan></text><text x="94.95" y="357.9" text-anchor="middle" font-size="11.5">−<tspan dx="0.9">4</tspan></text><text x="122.33" y="357.9" text-anchor="middle" font-size="11.5">−<tspan dx="0.9">2</tspan></text><text x="152.1" y="357.9" text-anchor="middle" font-size="11.5">0</text><text x="179.48" y="357.9" text-anchor="middle" font-size="11.5">2</text><text x="206.85" y="357.9" text-anchor="middle" font-size="11.5">4</text><text x="234.23" y="357.9" text-anchor="middle" font-size="11.5">6</text><text x="261.6" y="357.9" text-anchor="middle" font-size="11.5">8</text><text x="38.1" y="211.8" text-anchor="end" font-size="11.5">1.0</text><text x="38.1" y="245.7" text-anchor="end" font-size="11.5">0.5</text><text x="38.1" y="279.6" text-anchor="end" font-size="11.5">0.0</text><text x="38.1" y="313.5" text-anchor="end" font-size="11.5">−<tspan dx="0.8">0.5</tspan></text><text x="38.1" y="347.4" text-anchor="end" font-size="11.5">−<tspan dx="0.8">1.0</tspan></text><text x="152.1" y="370.1" text-anchor="middle" font-size="12.25">Angular velocity×10 (deg/s)</text><text transform="translate(15.4,284.5) rotate(-90)" text-anchor="middle" font-size="12.25">Angular acceleration×10<tspan font-size="8" dy="-5.5">3</tspan><tspan dy="5.5"> (deg/s</tspan><tspan font-size="8" dy="-5.5">2</tspan><tspan dy="5.5">)</tspan></text><text x="133.1" y="391.3" text-anchor="middle" font-size="14.5" style="stroke-width:0.05px">(<tspan font-weight="bold" font-size="14.5" style="stroke-width:0.2px">c</tspan>)</text><path d="M93.0,291.5 h21.5" stroke="#000" stroke-width="1.2" stroke-dasharray="4.8 3.2"/><path d="M93.0,305.3 h24.5" stroke="#000" stroke-width="1.2"/><text x="121" y="294.9" font-size="11">Ideal</text><text x="121" y="308.7" font-size="11">Two flexible bodies</text></g><g><path d="M518.9,275.85 L518.89,274.97 L518.86,274.1 L518.81,273.22 L518.73,272.35 L518.64,271.47 L518.52,270.6 L518.38,269.73 L518.22,268.85 L518.04,267.99 L517.84,267.12 L517.62,266.25 L517.38,265.39 L517.11,264.53 L516.83,263.68 L516.52,262.82 L516.2,261.97 L515.85,261.12 L515.48,260.28 L515.1,259.44 L514.69,258.6 L514.26,257.77 L513.81,256.94 L513.34,256.12 L512.85,255.3 L512.35,254.49 L511.82,253.68 L511.27,252.88 L510.7,252.09 L510.12,251.3 L509.51,250.51 L508.89,249.73 L508.25,248.96 L507.59,248.2 L506.91,247.44 L506.21,246.69 L505.49,245.94 L504.76,245.21 L504.01,244.48 L503.24,243.76 L502.45,243.04 L501.65,242.34 L500.82,241.64 L499.99,240.95 L499.13,240.27 L498.26,239.6 L497.37,238.94 L496.47,238.29 L495.55,237.64 L494.62,237.01 L493.67,236.39 L492.71,235.77 L491.73,235.17 L490.73,234.57 L489.72,233.99 L488.7,233.41 L487.67,232.85 L486.62,232.29 L485.55,231.75 L484.48,231.22 L483.39,230.7 L482.29,230.19 L481.18,229.69 L480.05,229.2 L478.91,228.73 L477.77,228.26 L476.61,227.81 L475.44,227.37 L474.25,226.94 L473.06,226.53 L471.86,226.12 L470.65,225.73 L469.43,225.35 L468.2,224.98 L466.97,224.63 L465.72,224.29 L464.47,223.96 L463.2,223.64 L461.93,223.34 L460.66,223.05 L459.37,222.77 L458.08,222.51 L456.79,222.25 L455.48,222.02 L454.18,221.79 L452.86,221.58 L451.54,221.38 L450.22,221.2 L448.89,221.03 L447.56,220.87 L446.23,220.73 L444.89,220.6 L443.55,220.48 L442.2,220.38 L440.86,220.29 L439.51,220.21 L438.16,220.15 L436.81,220.1 L435.46,220.07 L434.1,220.05 L432.75,220.04 L431.4,220.05 L430.04,220.07 L428.69,220.1 L427.34,220.15 L425.99,220.21 L424.64,220.29 L423.3,220.38 L421.95,220.48 L420.61,220.6 L419.27,220.73 L417.94,220.87 L416.61,221.03 L415.28,221.2 L413.96,221.38 L412.64,221.58 L411.32,221.79 L410.02,222.02 L408.71,222.25 L407.42,222.51 L406.13,222.77 L404.84,223.05 L403.57,223.34 L402.3,223.64 L401.03,223.96 L399.78,224.29 L398.53,224.63 L397.3,224.98 L396.07,225.35 L394.85,225.73 L393.64,226.12 L392.44,226.53 L391.25,226.94 L390.06,227.37 L388.89,227.81 L387.73,228.26 L386.59,228.73 L385.45,229.2 L384.32,229.69 L383.21,230.19 L382.11,230.7 L381.02,231.22 L379.95,231.75 L378.88,232.29 L377.83,232.85 L376.8,233.41 L375.78,233.99 L374.77,234.57 L373.77,235.17 L372.79,235.77 L371.83,236.39 L370.88,237.01 L369.95,237.64 L369.03,238.29 L368.13,238.94 L367.24,239.6 L366.37,240.27 L365.51,240.95 L364.68,241.64 L363.85,242.34 L363.05,243.04 L362.26,243.76 L361.49,244.48 L360.74,245.21 L360.01,245.94 L359.29,246.69 L358.59,247.44 L357.91,248.2 L357.25,248.96 L356.61,249.73 L355.99,250.51 L355.38,251.3 L354.8,252.09 L354.23,252.88 L353.68,253.68 L353.15,254.49 L352.65,255.3 L352.16,256.12 L351.69,256.94 L351.24,257.77 L350.81,258.6 L350.4,259.44 L350.02,260.28 L349.65,261.12 L349.3,261.97 L348.98,262.82 L348.67,263.68 L348.39,264.53 L348.12,265.39 L347.88,266.25 L347.66,267.12 L347.46,267.99 L347.28,268.85 L347.12,269.73 L346.98,270.6 L346.86,271.47 L346.77,272.35 L346.69,273.22 L346.64,274.1 L346.61,274.97 L346.6,275.85 L346.61,276.66 L346.64,277.48 L346.69,278.29 L346.77,279.1 L346.86,279.91 L346.98,280.72 L347.12,281.53 L347.28,282.34 L347.46,283.14 L347.66,283.95 L347.88,284.75 L348.12,285.55 L348.39,286.34 L348.67,287.14 L348.98,287.93 L349.3,288.72 L349.65,289.51 L350.02,290.29 L350.4,291.07 L350.81,291.84 L351.24,292.61 L351.69,293.38 L352.16,294.14 L352.65,294.9 L353.15,295.65 L353.68,296.4 L354.23,297.15 L354.8,297.89 L355.38,298.62 L355.99,299.35 L356.61,300.07 L357.25,300.78 L357.91,301.49 L358.59,302.19 L359.29,302.89 L360.01,303.58 L360.74,304.26 L361.49,304.94 L362.26,305.61 L363.05,306.27 L363.85,306.92 L364.68,307.57 L365.51,308.21 L366.37,308.84 L367.24,309.46 L368.13,310.07 L369.03,310.68 L369.95,311.28 L370.88,311.87 L371.83,312.44 L372.79,313.01 L373.77,313.58 L374.77,314.13 L375.78,314.67 L376.8,315.2 L377.83,315.73 L378.88,316.24 L379.95,316.74 L381.02,317.24 L382.11,317.72 L383.21,318.19 L384.32,318.65 L385.45,319.1 L386.59,319.55 L387.73,319.98 L388.89,320.4 L390.06,320.8 L391.25,321.2 L392.44,321.59 L393.64,321.96 L394.85,322.32 L396.07,322.68 L397.3,323.02 L398.53,323.35 L399.78,323.66 L401.03,323.97 L402.3,324.26 L403.57,324.54 L404.84,324.81 L406.13,325.07 L407.42,325.31 L408.71,325.55 L410.02,325.77 L411.32,325.98 L412.64,326.17 L413.96,326.36 L415.28,326.53 L416.61,326.69 L417.94,326.83 L419.27,326.97 L420.61,327.09 L421.95,327.19 L423.3,327.29 L424.64,327.37 L425.99,327.44 L427.34,327.5 L428.69,327.54 L430.04,327.58 L431.4,327.6 L432.75,327.6 L434.1,327.6 L435.46,327.58 L436.81,327.54 L438.16,327.5 L439.51,327.44 L440.86,327.37 L442.2,327.29 L443.55,327.19 L444.89,327.09 L446.23,326.97 L447.56,326.83 L448.89,326.69 L450.22,326.53 L451.54,326.36 L452.86,326.17 L454.18,325.98 L455.48,325.77 L456.79,325.55 L458.08,325.31 L459.37,325.07 L460.66,324.81 L461.93,324.54 L463.2,324.26 L464.47,323.97 L465.72,323.66 L466.97,323.35 L468.2,323.02 L469.43,322.68 L470.65,322.32 L471.86,321.96 L473.06,321.59 L474.25,321.2 L475.44,320.8 L476.61,320.4 L477.77,319.98 L478.91,319.55 L480.05,319.1 L481.18,318.65 L482.29,318.19 L483.39,317.72 L484.48,317.24 L485.55,316.74 L486.62,316.24 L487.67,315.73 L488.7,315.2 L489.72,314.67 L490.73,314.13 L491.73,313.58 L492.71,313.01 L493.67,312.44 L494.62,311.87 L495.55,311.28 L496.47,310.68 L497.37,310.07 L498.26,309.46 L499.13,308.84 L499.99,308.21 L500.82,307.57 L501.65,306.92 L502.45,306.27 L503.24,305.61 L504.01,304.94 L504.76,304.26 L505.49,303.58 L506.21,302.89 L506.91,302.19 L507.59,301.49 L508.25,300.78 L508.89,300.07 L509.51,299.35 L510.12,298.62 L510.7,297.89 L511.27,297.15 L511.82,296.4 L512.35,295.65 L512.85,294.9 L513.34,294.14 L513.81,293.38 L514.26,292.61 L514.69,291.84 L515.1,291.07 L515.48,290.29 L515.85,289.51 L516.2,288.72 L516.52,287.93 L516.83,287.14 L517.11,286.34 L517.38,285.55 L517.62,284.75 L517.84,283.95 L518.04,283.14 L518.22,282.34 L518.38,281.53 L518.52,280.72 L518.64,279.91 L518.73,279.1 L518.81,278.29 L518.86,277.48 L518.89,276.66 L518.9,275.85 Z" fill="none" stroke="#000" stroke-width="1.1" stroke-dasharray="4.5 3"/><path d="M518.9,275.85 L518.89,274.97 L518.86,274.1 L518.81,273.22 L518.73,272.35 L518.64,271.47 L518.52,270.6 L518.38,269.73 L518.22,268.85 L518.04,267.99 L517.84,267.12 L517.62,266.25 L517.38,265.39 L517.11,264.53 L516.83,263.68 L516.52,262.82 L516.2,261.97 L515.85,261.12 L515.48,260.28 L515.1,259.44 L514.69,258.6 L514.26,257.77 L513.81,256.94 L513.34,256.12 L512.85,255.3 L512.35,254.49 L511.82,253.68 L511.27,252.88 L510.7,252.09 L510.12,251.3 L509.51,250.51 L508.89,249.73 L508.25,248.96 L507.59,248.2 L506.91,247.44 L506.21,246.69 L505.49,245.94 L504.76,245.21 L504.01,244.48 L503.24,243.76 L502.45,243.04 L501.65,242.34 L500.82,241.64 L499.99,240.95 L499.13,240.27 L498.26,239.6 L497.37,238.94 L496.47,238.29 L495.55,237.64 L494.62,237.01 L493.67,236.39 L492.71,235.77 L491.73,235.17 L490.73,234.57 L489.72,233.99 L488.7,233.41 L487.67,232.85 L486.62,232.29 L485.55,231.75 L484.48,231.22 L483.39,230.7 L482.29,230.19 L481.18,229.69 L480.05,229.2 L478.91,228.73 L477.77,228.26 L476.61,227.81 L475.44,227.37 L474.25,226.94 L473.06,226.53 L471.86,226.12 L470.65,225.73 L469.43,225.35 L468.2,224.98 L466.97,224.63 L465.72,224.29 L464.47,223.96 L463.2,223.64 L461.93,223.34 L460.66,223.05 L459.37,222.77 L458.08,222.51 L456.79,222.25 L455.48,222.02 L454.18,221.79 L452.86,221.58 L451.54,221.38 L450.22,221.2 L448.89,221.03 L447.56,220.87 L446.23,220.73 L444.89,220.6 L443.55,220.48 L442.2,220.38 L440.86,220.29 L439.51,220.21 L438.16,220.15 L436.81,220.1 L435.46,220.07 L434.1,220.05 L432.75,220.04 L431.4,220.05 L430.04,220.07 L428.69,220.1 L427.34,220.15 L425.99,220.21 L424.64,220.29 L423.3,220.38 L421.95,220.48 L420.61,220.6 L419.27,220.73 L417.94,220.87 L416.61,221.03 L415.28,221.2 L413.96,221.38 L412.64,221.58 L411.32,221.79 L410.02,222.02 L408.71,222.25 L407.42,222.51 L406.13,222.77 L404.84,223.05 L403.57,223.34 L402.3,223.64 L401.03,223.96 L399.78,224.29 L398.53,224.63 L397.3,224.98 L396.07,225.35 L394.85,225.73 L393.64,226.12 L392.44,226.53 L391.25,226.94 L390.06,227.37 L388.89,227.81 L387.73,228.26 L386.59,228.73 L385.45,229.2 L384.32,229.69 L383.21,230.19 L382.11,230.7 L381.02,231.22 L379.95,231.75 L378.88,232.29 L377.83,232.85 L376.8,233.41 L375.78,233.99 L374.77,234.57 L373.77,235.17 L372.79,235.77 L371.83,236.39 L370.88,237.01 L369.95,237.64 L369.03,238.29 L368.13,238.94 L367.24,239.6 L366.37,240.27 L365.51,240.95 L364.68,241.64 L363.85,242.34 L363.05,243.04 L362.26,243.76 L361.49,244.48 L360.74,245.21 L360.01,245.94 L359.29,246.69 L358.59,247.44 L357.91,248.2 L357.25,248.96 L356.61,249.73 L355.99,250.51 L355.38,251.3 L354.8,252.09 L354.23,252.88 L353.68,253.68 L353.15,254.49 L352.65,255.3 L352.16,256.12 L351.69,256.94 L351.24,257.77 L350.81,258.6 L350.4,259.44 L350.02,260.28 L349.65,261.12 L349.3,261.97 L348.98,262.82 L348.67,263.68 L348.39,264.53 L348.12,265.39 L347.88,266.25 L347.66,267.12 L347.46,267.99 L347.28,268.85 L347.12,269.73 L346.98,270.6 L346.86,271.47 L346.77,272.35 L346.69,273.22 L346.64,274.1 L346.61,274.97 L346.6,275.85 L346.61,276.66 L346.64,277.48 L346.69,278.29 L346.77,279.1 L346.86,279.91 L346.98,280.72 L347.12,281.53 L347.28,282.34 L347.46,283.14 L347.66,283.95 L347.88,284.75 L348.12,285.55 L348.39,286.34 L348.67,287.14 L348.98,287.93 L349.3,288.72 L349.65,289.51 L350.02,290.29 L350.4,291.07 L350.81,291.84 L351.24,292.61 L351.69,293.38 L352.16,294.14 L352.65,294.9 L353.15,295.65 L353.68,296.4 L354.23,297.15 L354.8,297.89 L355.38,298.62 L355.99,299.35 L356.61,300.07 L357.25,300.78 L357.91,301.49 L358.59,302.19 L359.29,302.89 L360.01,303.58 L360.74,304.26 L361.49,304.94 L362.26,305.61 L363.05,306.27 L363.85,306.92 L364.68,307.57 L365.51,308.21 L366.37,308.84 L367.24,309.46 L368.13,310.07 L369.03,310.68 L369.95,311.28 L370.88,311.87 L371.83,312.44 L372.79,313.01 L373.77,313.58 L374.77,314.13 L375.78,314.67 L376.8,315.2 L377.83,315.73 L378.88,316.24 L379.95,316.74 L381.02,317.24 L382.11,317.72 L383.21,318.19 L384.32,318.65 L385.45,319.1 L386.59,319.55 L387.73,319.98 L388.89,320.4 L390.06,320.8 L391.25,321.2 L392.44,321.59 L393.64,321.96 L394.85,322.32 L396.07,322.68 L397.3,323.02 L398.53,323.35 L399.78,323.66 L401.03,323.97 L402.3,324.26 L403.57,324.54 L404.84,324.81 L406.13,325.07 L407.42,325.31 L408.71,325.55 L410.02,325.77 L411.32,325.98 L412.64,326.17 L413.96,326.36 L415.28,326.53 L416.61,326.69 L417.94,326.83 L419.27,326.97 L420.61,327.09 L421.95,327.19 L423.3,327.29 L424.64,327.37 L425.99,327.44 L427.34,327.5 L428.69,327.54 L430.04,327.58 L431.4,327.6 L432.75,327.6 L434.1,327.6 L435.46,327.58 L436.81,327.54 L438.16,327.5 L439.51,327.44 L440.86,327.37 L442.2,327.29 L443.55,327.19 L444.89,327.09 L446.23,326.97 L447.56,326.83 L448.89,326.69 L450.22,326.53 L451.54,326.36 L452.86,326.17 L454.18,325.98 L455.48,325.77 L456.79,325.55 L458.08,325.31 L459.37,325.07 L460.66,324.81 L461.93,324.54 L463.2,324.26 L464.47,323.97 L465.72,323.66 L466.97,323.35 L468.2,323.02 L469.43,322.68 L470.65,322.32 L471.86,321.96 L473.06,321.59 L474.25,321.2 L475.44,320.8 L476.61,320.4 L477.77,319.98 L478.91,319.55 L480.05,319.1 L481.18,318.65 L482.29,318.19 L483.39,317.72 L484.48,317.24 L485.55,316.74 L486.62,316.24 L487.67,315.73 L488.7,315.2 L489.72,314.67 L490.73,314.13 L491.73,313.58 L492.71,313.01 L493.67,312.44 L494.62,311.87 L495.55,311.28 L496.47,310.68 L497.37,310.07 L498.26,309.46 L499.13,308.84 L499.99,308.21 L500.82,307.57 L501.65,306.92 L502.45,306.27 L503.24,305.61 L504.01,304.94 L504.76,304.26 L505.49,303.58 L506.21,302.89 L506.91,302.19 L507.59,301.49 L508.25,300.78 L508.89,300.07 L509.51,299.35 L510.12,298.62 L510.7,297.89 L511.27,297.15 L511.82,296.4 L512.35,295.65 L512.85,294.9 L513.34,294.14 L513.81,293.38 L514.26,292.61 L514.69,291.84 L515.1,291.07 L515.48,290.29 L515.85,289.51 L516.2,288.72 L516.52,287.93 L516.83,287.14 L517.11,286.34 L517.38,285.55 L517.62,284.75 L517.84,283.95 L518.04,283.14 L518.22,282.34 L518.38,281.53 L518.52,280.72 L518.64,279.91 L518.73,279.1 L518.81,278.29 L518.86,277.48 L518.89,276.66 L518.9,275.85" fill="none" stroke="#000" stroke-width="1.2" stroke-linejoin="round"/><rect x="323.0" y="208.2" width="219.5" height="135.3" fill="none" stroke="#2e2e2e" stroke-width="1.25"/><path d="M323,343.5 v3 M336.72,343.5 v1.6 M350.44,343.5 v3 M364.16,343.5 v1.6 M377.88,343.5 v3 M391.59,343.5 v1.6 M405.31,343.5 v3 M419.03,343.5 v1.6 M432.75,343.5 v3 M446.47,343.5 v1.6 M460.19,343.5 v3 M473.91,343.5 v1.6 M487.62,343.5 v3 M501.34,343.5 v1.6 M515.06,343.5 v3 M528.78,343.5 v1.6 M542.5,343.5 v3 M323,343.5 h-3 M323,326.59 h-1.6 M323,309.68 h-3 M323,292.76 h-1.6 M323,275.85 h-3 M323,258.94 h-1.6 M323,242.02 h-3 M323,225.11 h-1.6 M323,208.2 h-3" stroke="#2e2e2e" stroke-width="1.1" fill="none"/><text x="320.6" y="357.6" text-anchor="middle" font-size="11.5">−<tspan dx="0.9">8</tspan></text><text x="348.04" y="357.6" text-anchor="middle" font-size="11.5">−<tspan dx="0.9">6</tspan></text><text x="375.48" y="357.6" text-anchor="middle" font-size="11.5">−<tspan dx="0.9">4</tspan></text><text x="402.91" y="357.6" text-anchor="middle" font-size="11.5">−<tspan dx="0.9">2</tspan></text><text x="432.75" y="357.6" text-anchor="middle" font-size="11.5">0</text><text x="460.19" y="357.6" text-anchor="middle" font-size="11.5">2</text><text x="487.62" y="357.6" text-anchor="middle" font-size="11.5">4</text><text x="515.06" y="357.6" text-anchor="middle" font-size="11.5">6</text><text x="542.5" y="357.6" text-anchor="middle" font-size="11.5">8</text><text x="318.5" y="211.8" text-anchor="end" font-size="11.5">1.0</text><text x="318.5" y="245.62" text-anchor="end" font-size="11.5">0.5</text><text x="318.5" y="279.45" text-anchor="end" font-size="11.5">0.0</text><text x="318.5" y="313.28" text-anchor="end" font-size="11.5">−<tspan dx="0.8">0.5</tspan></text><text x="318.5" y="347.1" text-anchor="end" font-size="11.5">−<tspan dx="0.8">1.0</tspan></text><text x="432.75" y="369.8" text-anchor="middle" font-size="12.25">Angular velocity×10 (deg/s)</text><text transform="translate(295.8,284.35) rotate(-90)" text-anchor="middle" font-size="12.25">Angular acceleration×10<tspan font-size="8" dy="-5.5">3</tspan><tspan dy="5.5"> (deg/s</tspan><tspan font-size="8" dy="-5.5">2</tspan><tspan dy="5.5">)</tspan></text><text x="413.5" y="391" text-anchor="middle" font-size="14.5" style="stroke-width:0.05px">(<tspan font-weight="bold" font-size="14.5" style="stroke-width:0.2px">d</tspan>)</text><path d="M371.5,291.5 h21.5" stroke="#000" stroke-width="1.2" stroke-dasharray="4.8 3.2"/><path d="M371.5,305.0 h24.5" stroke="#000" stroke-width="1.2"/><text x="399.5" y="294.9" font-size="11">Ideal</text><text x="399.5" y="308.4" font-size="11">Three flexible bodies</text></g></svg>
</body></html>
